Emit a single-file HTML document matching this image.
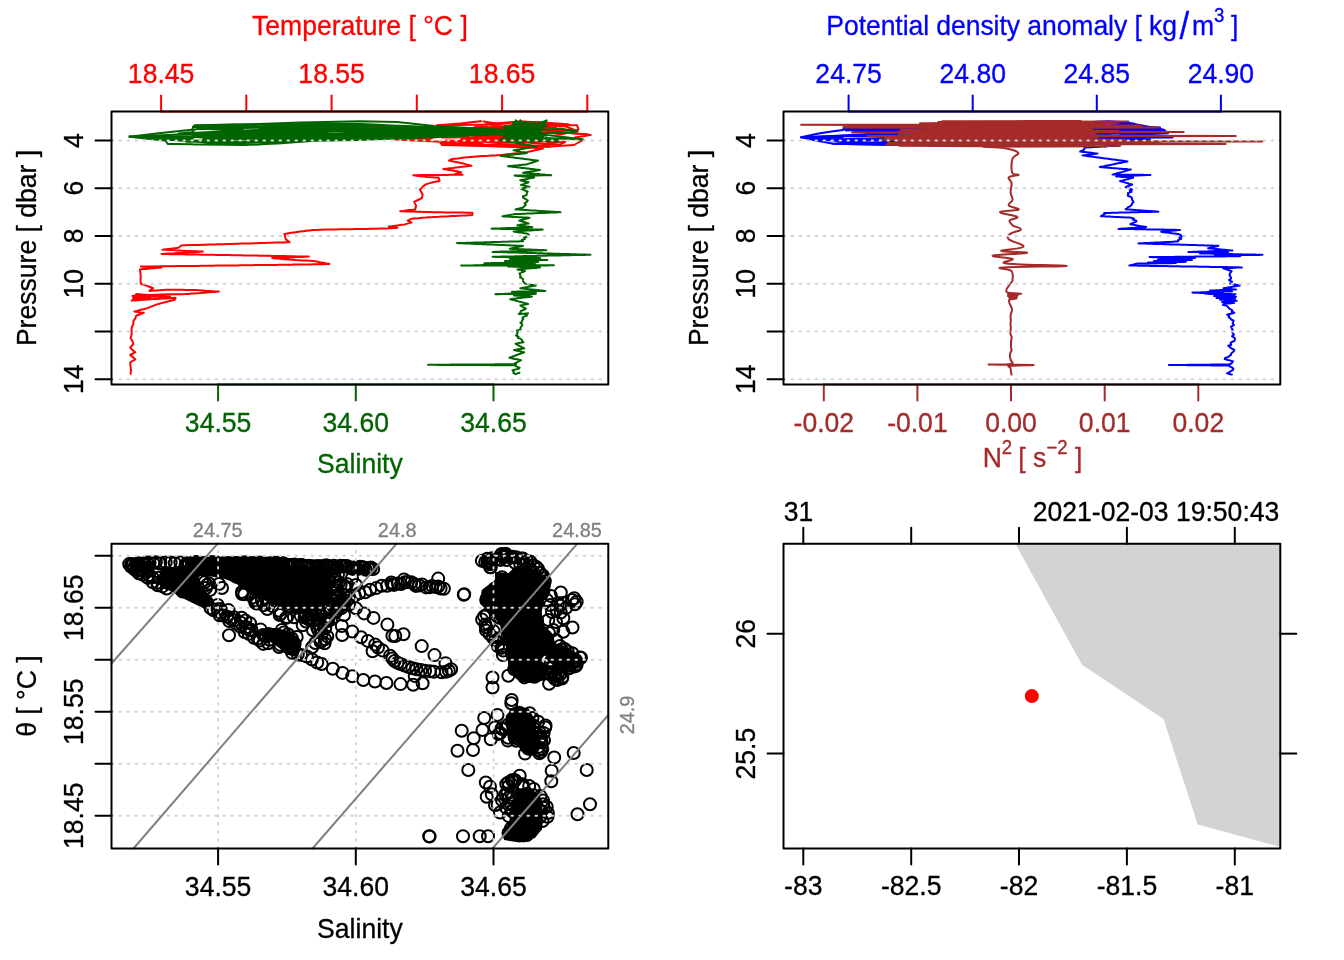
<!DOCTYPE html>
<html lang="en"><head><meta charset="utf-8"><title>CTD profile summary</title>
<style>
html,body{margin:0;padding:0;background:#fff}
svg{display:block}
text{font-family:"Liberation Sans", sans-serif;stroke-width:.3px;stroke-linejoin:round}
.g{stroke:#d3d3d3;stroke-width:2;stroke-dasharray:1.5 6.5;stroke-linecap:round;fill:none}
.c circle{fill:none;stroke:#000;stroke-width:2}
</style></head><body>
<svg width="1344" height="960" viewBox="0 0 1344 960">
<rect width="1344" height="960" fill="#fff"/>
<g id="p1">
<polyline points="483.5,121.6 500,124 505,123.4 520,121.6 527.1,121.9 545,122.5 550,122.9 550.3,122.9 568.1,124.3 568.8,124.4 534,125.1 522.2,123.4 520,124.2 502.8,126.2 491.3,126.2 500,127.4 508.8,126.2 520,125.7 524.4,125.8 545,127 546.7,126.7 550,127.1 555.9,127.2 541.7,127.4 532.1,127.6 520,126.3 503.5,128.2 500,128.4 481,126.3 475,127.1 469.1,129.4 481,128 495.7,129.2 500,130.5 511.1,129.7 520,128.3 529.2,128.3 545,129 550,130.2 556.7,130.2 570.2,129.9 532.5,130.4 520,129.1 511.8,129.7 500,130.9 489.1,129.4 481,129.2 471.3,128.9 467,129.9 445.4,130.6 462.2,132.5 467,131.1 480.4,130.7 481,131.4 500,132.6 501,132.5 520,130.9 527.7,131.1 545,132.2 550,132 551.6,132.5 567.2,132.6 550.3,133 550,133 545,133.6 539.6,133.6 520,132.1 516.6,132.4 465.5,134.2 467,133.6 481,133.3 493.5,135.6 500,135.1 520,134.6 520.5,134 538.3,135.2 537.4,136.2 526.1,136.5 520,136.2 500,136.5 499.4,136.1 481,135.3 476.6,135.1 467,135 458.2,135.1 442,136.2 441.9,135.9 440,134 437,134.4 430,139.2 417,138.4 438.8,135.1 440,135.9 442,137.5 454.7,137.5 467,136.7 470.3,137.6 481,136.2 497.7,138 500,138.4 520,137.8 522.4,137.6 535.9,137.8 544.8,139.4 542.3,138.6 520,139 515.4,139.1 500,139.3 488.1,138.9 481,138.4 467,138.9 463.6,138.8 461,139.4 467,140.3 481,139.3 481.5,140.1 500,141 506.6,140.5 520,140.8 529.7,140.6 545,141 550,141.5 550.9,140.6 560.6,140 538.5,141.2 536.2,141.6 520,141.1 515,141.9 500,142.3 490.9,141.6 481,140.6 467,140.2 463.5,140.9 445.9,140.5 459.9,141.8 467,141.5 481,141.6 486.5,142.1 500,143 511.2,142.7 520,142.3 539.2,143.2 545,143.5 550,142.9 558.2,142.1 565.2,141.8 559.8,144.6 550,144.6 545,145.3 542.8,145.6 525.6,145.3 520,145 509.9,145 500,144.8 484.1,144.5 481,143.6 467,143.4 464.6,143.5 442,144 441.7,142.4 440.4,142.6 442,145 465.3,145.6 467,145.6 481,146 483,146.1 500,146.5 502,146.5 520,146.6 522,146.6 545,146.8 546.6,146.8 549.8,146.8" fill="none" stroke="#ff0000" stroke-width="2" stroke-linejoin="round" stroke-linecap="round" />
<polyline points="467.9,122.6 481,121.3 460,123.6 437,125.2 500,124.5" fill="none" stroke="#ff0000" stroke-width="2" stroke-linejoin="round" stroke-linecap="round" />
<polyline points="486,124.2 520,121.5 545,122.5 560,125 577,125.2 578.5,129.5 570,133 590.7,135 575,137.5 583,140 574,145 550,146.4 500,146 470,144.6 442,144.8 455,142.5 395.3,139.5 440,137" fill="none" stroke="#ff0000" stroke-width="2" stroke-linejoin="round" stroke-linecap="round" />
<polyline points="546,125 566,126.5 577,131 560,134.5 546,131 588,134.6" fill="none" stroke="#ff0000" stroke-width="2" stroke-linejoin="round" stroke-linecap="round" />
<polyline points="442,144.6 500,146.3 530,147.6 542.7,148.4" fill="none" stroke="#ff0000" stroke-width="2" stroke-linejoin="round" stroke-linecap="round" />
<polyline points="542.7,148.4 539.5,149.2 536.3,149.9 533.2,150.7 530,151.4 526.8,152.2 523.5,152.5 520.2,152.9 516.9,153.2 513.6,153.6 510.4,153.9 507.1,154.3 503.8,154.7 500.5,155 497.5,155.2 494.5,155.4 491.5,155.6 488.5,155.8 485.5,155.9 482.5,156.1 479.5,156.3 476.5,156.5 473.5,156.7 470.5,156.9 467.4,157.3 464.3,157.6 461.1,158 458,158.4 454.9,158.7 451.8,159.1 448.9,160.6 452.4,161.3 455.9,162 459.5,162.7 463,163.4 467.2,164.6 471.4,165.7 468.4,166.1 465.4,166.4 462.3,166.8 459.3,167.2 456.1,167.6 452.9,168 449.7,168.3 446.5,168.7 443.3,169.1 446.4,169.6 449.4,170 452.4,170.4 455.5,170.9 461.1,172.3 455.5,173.8 459.1,174.2 462.6,174.7 459.5,174.7 456.4,174.8 453.4,174.8 450.3,174.8 447.2,174.9 444.1,174.9 441,174.9 438,175 434.9,175 431.8,175 428.7,175.1 425.6,175.1 422.5,175.1 419.5,175.2 416.4,175.2 413.3,175.2 416.8,175.7 420.4,176.2 423.9,176.6 427.4,177.1 431.1,177.2 434.9,177.4 438.6,177.5 439.6,180.9 436.3,181.6 433,182.2 429.7,183.1 426.4,184.1 423.6,185.9 419.9,189.7 422.7,194.4 421.8,198.1 418,200 414.2,201.9 416.1,205.6 415.2,209.4 412.2,209.8 409.2,210.1 406.2,210.5 403.2,210.9 400.2,211.2 403.5,211.3 406.8,211.4 410,211.5 413.3,211.6 416.6,211.7 419.9,211.8 423.2,211.9 426.4,212 429.7,212.1 433,212.2 436,212.2 439.1,212.3 442.1,212.3 445.1,212.4 448.2,212.4 451.2,212.5 454.2,212.5 457.2,212.5 460.3,212.6 463.3,212.6 466.3,212.7 469.4,212.7 472.4,212.8 472.4,215 469,215.2 465.5,215.4 462.1,215.6 458.6,215.7 455.2,215.9 451.8,216.1 448.5,216.3 445.3,216.4 442.1,216.6 438.9,216.8 435.7,216.9 432.5,217.1 429.2,217.2 425.7,217.6 422.1,217.8 418.5,218.2 415,218.4 411.4,218.8 407.7,220.6 411.4,222.5 408.1,223.4 404.9,224.4 401.7,224.8 398.5,225.3 395.3,225.7 392.1,226.2 388.9,226.6 393.1,227.2 397.4,227.8 393.6,228 389.9,228.2 386.1,228.5 383,228.6 379.9,228.6 376.7,228.7 373.6,228.8 370.5,228.8 367.4,228.9 364.2,229 361.1,229 358,229.1 354.9,229.1 351.8,229.2 348.7,229.2 345.6,229.2 342.4,229.3 339.3,229.3 336.2,229.4 333.1,229.4 329.7,229.5 326.2,229.6 322.8,229.7 319.4,229.8 315.9,229.9 312.5,230 309.4,230.4 306.4,230.8 303.3,231.2 300.2,231.6 297.1,232 294.1,232.4 291,232.8 287.7,233.4 284.4,234.1 285.9,239.4 289.6,242.2 286.6,242.3 283.6,242.4 280.6,242.5 277.6,242.6 274.6,242.6 271.6,242.7 268.5,242.8 265.5,242.9 262.5,243 259.5,243.1 256.5,243.2 253.5,243.3 250.5,243.4 247.5,243.4 244.5,243.5 241.5,243.6 238.5,243.7 235.5,243.8 232.4,243.9 229.4,244 226.4,244.1 223.4,244.2 220.4,244.2 217.4,244.3 214.4,244.4 211.4,244.5 208.4,244.6 205.4,244.7 202.4,244.8 199.4,244.9 196.3,245 193.3,245 190.3,245.1 187.3,245.2 184.3,245.3 181.3,245.4 178.4,247.8 175.2,248.2 172,248.6 168.9,248.9 165.7,249.3 162.5,249.7 165.6,249.8 168.7,250 171.8,250.1 174.9,250.3 178,250.4 181.1,250.6 184.2,250.7 187.3,250.9 190.4,251 193.5,251.2 196.6,251.3 199.7,251.5 202.8,251.6 199.6,251.8 196.5,252 193.3,252.2 190.1,252.3 187,252.5 183.8,252.7 180.6,252.9 177.4,253.1 174.3,253.3 171.1,253.4 167.9,253.6 164.8,253.8 161.6,254 164.7,254.1 167.7,254.1 170.8,254.2 173.9,254.2 176.9,254.2 180,254.3 183.1,254.3 186.1,254.4 189.2,254.5 192.3,254.5 195.3,254.6 198.4,254.6 201.4,254.7 204.5,254.7 207.6,254.8 210.6,254.8 213.7,254.8 216.8,254.9 219.8,255 222.9,255 226,255.1 229,255.1 232.1,255.2 235.2,255.2 238.2,255.2 241.3,255.3 244.4,255.4 247.4,255.4 250.5,255.5 253.6,255.5 256.6,255.6 259.7,255.7 262.8,255.7 265.8,255.8 268.9,255.8 272,255.9 275.1,256 278.1,256 281.2,256.1 284.3,256.1 287.3,256.2 290.4,256.2 293.5,256.3 296.5,256.4 299.6,256.4 302.7,256.5 305.7,256.5 308.8,256.6 305.8,256.7 302.7,256.9 299.6,257 296.6,257.1 293.6,257.2 290.5,257.4 287.4,257.5 284.4,257.6 281.4,257.7 278.3,257.9 275.2,258 272.2,258.1 275.5,258.4 278.9,258.6 282.2,258.9 285.6,259.2 288.9,259.5 292.3,259.7 295.6,260 299.2,260.2 302.7,260.4 306.3,260.5 309.8,260.7 313.4,260.9 316.6,261.5 319.8,262.2 323,262.8 326.2,263.5 329.4,264.1 326.2,264.1 323,264.2 319.9,264.2 316.7,264.3 313.5,264.3 310.3,264.4 307.2,264.4 304,264.5 300.8,264.5 297.6,264.6 294.5,264.6 291.3,264.7 288.1,264.7 285.1,264.7 282.1,264.8 279.1,264.8 276.1,264.9 273.1,264.9 270.1,264.9 267.1,265 264.1,265 261.1,265 258.1,265.1 255.1,265.1 252.1,265.2 249,265.2 246,265.2 243,265.3 240,265.3 237,265.4 234,265.4 231,265.4 228,265.5 225,265.5 222,265.6 219,265.6 216,265.6 213,265.7 210,265.7 207,265.7 204,265.8 201,265.8 198,265.9 195,265.9 192,265.9 189,266 186,266 183,266.1 180,266.1 176.9,266.1 173.9,266.2 170.9,266.2 167.9,266.3 164.9,266.3 161.9,266.3 158.9,266.4 155.9,266.4 152.9,266.4 149.9,266.5 146.9,266.5 143.9,266.6 140.9,266.6 144.3,266.8 147.8,266.9 151.2,267.1 154.7,267.2 158.2,267.4 161.6,267.5 158.5,267.8 155.4,268 152.3,268.3 149.3,268.6 146.2,268.9 143.1,269.1 140,269.4 140.4,273 140.8,276.6 140.5,280.2 140.9,283.8 143.9,284.8 147,285.9 150.1,287 153.1,288.1 149.4,290.9 152.8,290.7 156.1,290.4 159.5,290.2 162.9,290 166.2,289.8 169.5,289.8 172.8,289.8 176.1,289.8 179.4,289.8 182.7,289.8 185.9,289.9 189.2,289.9 192.5,289.9 195.8,290.1 199.1,290.3 202.3,290.5 205.6,290.8 208.9,291 212.2,291.2 215.5,291.4 218.8,291.6 215.7,291.8 212.6,292.1 209.5,292.3 206.5,292.5 203.4,292.7 200.3,293 197.3,293.2 194.2,293.4 191.1,293.6 188.1,293.9 185,294.1 181.6,294.2 178.1,294.2 174.7,294.2 171.3,294.3 167.8,294.3 164.4,294.4 161.2,294.5 158,294.7 154.8,294.8 151.6,295 148.4,295.1 145.3,295.3 142.1,295.4 138.9,295.6 135.7,295.8 132.5,295.9 135.7,295.8 138.9,295.8 142.1,295.7 145.2,295.6 148.4,295.6 151.6,295.5 154.8,295.5 158,295.4 155,295.6 152,295.8 149,296 146,296.2 143,296.4 140,296.6 137,296.8 134,297 137,297 140,296.9 143,296.9 146,296.9 149,296.8 152,296.8 155,296.8 158,296.7 161,296.7 164,296.7 167,296.6 170,296.6 166.9,296.4 163.9,296.1 160.8,295.9 157.7,295.7 154.7,295.5 151.6,295.2 148.5,295 145.5,294.8 142.4,294.6 139.3,294.3 136.2,294.1 133,298.5 136.4,298.4 139.8,298.4 143.2,298.3 146.6,298.3 150,298.2 146.9,298.6 143.9,299 140.8,299.4 137.7,299.8 134.7,300.2 131.6,300.6 134.8,300.4 138,300.2 141.2,300 144.5,299.7 147.7,299.5 150.9,299.3 154.1,299.1 157.2,298.9 160.2,298.7 163.3,298.5 166.4,298.4 169.5,298.2 172.5,298 175.6,297.8 174.7,299.7 171.7,300.5 168.8,301.3 165.8,302 162.8,302.8 159.9,303.6 156.9,304.4 153.8,305.6 150.6,306.9 147.5,308.1 144.2,309 140.9,309.8 137.7,310.6 134.4,311.5 137.5,311.9 140.6,312.4 143.8,312.8 140,314.2 136.2,315.6 135.2,318.4 133.4,321.2 133.3,324.4 131.7,327.5 131.6,330.6 131.6,334.4 130.6,338.1 132.3,340.9 133.4,343.8 130.2,347.5 132.3,349.9 135.3,352.2 130.2,355 132.7,357.1 135.3,359.3 130.2,362.5 130.5,366.2 131,370 130.6,373.8" fill="none" stroke="#ff0000" stroke-width="2" stroke-linejoin="round" stroke-linecap="round" />
<polyline points="129.5,136.7 156.5,133.6 165.8,132.5 167.7,132.3 182.4,130.7 191.8,129.7 194.6,125.4 210.3,125.1 231.8,124.6 243.9,124.4 255.8,124.2 258.8,124.1 273.9,124 277.4,123.9 298.8,123.7 314.6,123.6 325,123.4 330,123.4 348.9,123.8 360,124.1 373.8,124.6 392,125.4 419.3,126.5 447.6,127.6 450,127.7 453,127.8 475.9,128.7 498.4,129.7 499.5,129.7 500,129.7 507.1,129.8 500.5,130.6 500,130.5 499.5,129.7 483.8,130 458,129.1 453,128.3 450,128.2 438.2,128.1 420.5,127.8 394.6,126.6 378.3,126.2 360,125.7 352.2,125 336.5,124.9 330,124.4 314.6,124.4 314.6,125.5 289.1,125.3 277.4,126 266.4,125.9 258.8,126.2 245.2,126.3 243.9,126.1 228.7,125.9 205.1,128.6 227.2,127.4 243.9,127.4 250.5,126.9 258.8,127 266.3,127.4 277.4,127.3 294.5,126.5 314.6,125.9 316.7,125.7 330,126.1 337.4,126.6 360,126 363.4,126.9 386.2,126.6 408.1,127.4 432.6,128.2 448.9,129.2 450,128.8 453,128.9 471.4,129.7 492.3,129.7 499.5,130.6 500,129.9 506.1,130.4 503.1,130.2 500,130.8 499.5,130.5 494.6,130.7 468.5,129.8 453,129 450,130 443.3,129.7 424.8,129 398.1,127.8 374.6,127 360,127.4 348,126.9 330,126.3 325.6,127.1 314.6,126.8 301.8,127.6 278,127.3 277.4,127.5 260,128.3 258.8,127.8 243.9,128 242.4,128.9 220.1,129.4 199.2,128.7 194.6,129.6 191.8,132.3 178.8,133.4 287.4,128.5 310.3,128.2 314.6,127.6 327.7,127.6 330,127.6 345.5,127.7 360,128.1 363.6,127.5 390.1,128.9 418.5,129.6 446.2,129.4 450,129.8 453,130.2 462.8,130 479.1,130 499.5,130.4 500,130.8 505.4,130.2 515.8,131.3 509.4,131.3 500,131.8 499.5,131 488.6,131.1 462.5,130.9 453,130.9 450,130.5 436.8,130.7 411.6,130.7 384.1,129.5 365.3,129.7 360,129.6 339.3,129.1 330,128.6 314.6,129.4 310.9,129.3 288.9,129.7 277.4,130.9 265.6,130.7 258.8,131.3 244.8,131.7 243.9,131.7 221.1,132.1 293.5,131.2 312.3,131 314.6,130.5 330,130.5 333,129.6 349,130.4 360,130.6 367,129.8 387.4,131.1 404.1,130.3 422.8,130.9 450,130.8 450.1,131.1 453,131.3 472.8,130.7 494.9,131.9 499.5,131.3 500,131.4 512.2,131.4 506.8,131.8 503.1,132.1 500,132.2 499.5,131.6 486.8,131.9 458.9,131.4 453,131.6 450,131.2 430.5,131.4 414.4,131.5 389.1,131.1 361.9,130.5 360,131 341.3,130.4 330,130.5 316,131 314.6,131.2 298.5,131.2 282.5,132.4 277.4,132.9 263.9,133.4 258.8,132.9 248.3,133.5 243.9,133.9 229,133.5 204.1,133.3 194.6,134.2 191.8,136.1 185,136.4 129.5,136.2 156.7,136.3 165.8,136.5 167.7,138.2 182.4,136.8 191.8,136.9 194.6,134.2 206.1,134.2 226.2,134.8 243.9,134.6 245.2,134.6 258.8,133.9 269.7,133.7 277.4,133.2 292.5,132.7 314.6,132.3 315.7,132.4 330,131.3 339.5,131.3 360,132.2 364.8,132 382.7,132.2 401.4,131.6 429.7,131.9 450,131.7 453,132.4 457.2,131.8 484.2,132.1 493.4,132.4 517.6,131.3 510.6,131.7 500,132 499.5,131.9 494.1,132 470,132.2 453,132.2 451.8,133 450,133.1 435.4,132.5 409.7,132.4 390.4,132.5 365.9,133.2 360,132.7 344.1,133.3 330,133.4 321.3,133.5 314.6,133.1 304.8,133.8 288.4,133.8 277.4,134.6 261.4,135.5 258.8,135.1 244.7,135.4 243.9,135.6 224.4,136.1 203.4,136.1 129.5,136.2 152,136.8 165.8,137.9 167.7,140 178.5,138.7 191.8,138.9 194.6,136.8 201.3,137.5 219,137.4 243.9,136.9 244.5,136.9 258.8,137 271.5,136.3 277.4,136.4 290.6,135.3 306.3,134.5 314.6,134.8 328.5,134.2 330,134 351.1,134 360,134.2 374,134 402.1,134 426.1,133.2 450,133.5 452.1,133.3 453,133.5 468.4,133.2 491,132.9 499.5,132.8 500,132.9 513.9,132.2 502.6,133 500,133.1 499.5,132.3 483.8,132.9 466.8,133.7 453,133.7 450,133.4 447.4,134 431.2,133.5 403,134 383.7,134.1 362.7,134.4 360,134.9 344.6,135.2 330,134.7 327,134.7 314.6,134.9 306.7,135.2 278.2,136.7 277.4,137.7 258.8,138 253,138 243.9,137.9 235.7,138 214.7,138.7 203.3,139.5 221.6,139.5 237.7,139 243.9,139.1 258.8,138.7 265.6,138.4 277.4,138.7 291.6,137.5 312.1,136.4 314.6,136.7 330,135.6 334.4,135.9 356.6,135.2 360,135.9 375.7,134.8 404.1,135.3 428.2,134.9 446.7,134.5 450,133.6 453,133.8 462.3,134.1 483.9,132.8 499.5,132.8 500,132.8 504.2,133.2 504.5,132.8 502.5,133.4 500,132.8 499.5,132.9 484.8,133.9 460,134.4 453,134.5 450,134.6 438.4,135.1 419,135.4 402.6,135.7 383.1,136.5 363.6,136.4 360,137.2 337.2,137.7 330,136.6 319.7,137.4 314.6,137.6 297.4,138.3 277.4,140.1 274.8,139.8 258.8,140 256.7,140.8 243.9,141.5 230.4,141.6 213.8,140.9 194.6,140.6 191.8,141.1 186.3,141.8 231.2,141.3 243.9,141.8 250.9,141.1 258.8,141.8 277.2,140.5 277.4,140.6 293.9,139.7 311.1,138.7 314.6,138.5 327.8,137.8 330,137.7 352.1,137.5 360,136.9 376.9,136.9 394.6,136.8 415.3,136.6 441.8,135.7 450,135.3 453,135.2 465,134 481.6,133.8 499.5,133.2 500,133.5 500,132.9 511.7,132.7 508.3,132.8 500,133.7 499.5,134 499.2,134.2 472.8,135.3 453,135.3 450,135.8 447.9,135.9 425.7,136.5 397.3,137.8 372.5,137.7 360,139.1 355.2,138.1 333.2,138.9 330,138.8 314.6,139.8 313.2,139.2 290.5,141.2 277.4,142 263.2,142.2 258.8,142.1 243.9,142.9 237.7,143.4 220.2,143.5 129.5,136.7 156.7,139.8 165.8,140.8 167.7,144 175.3,144.1 191.8,144.3 194.6,144.4 198.3,144.4 224.7,144.8 242.5,145.1 243.9,145.1 258.8,144.4 265.1,144.1 277.4,143.6 281.5,143.3 297.4,142.1 314.6,140.8 315.1,140.8 330,140.5 343.6,140.2 360,139.9 371.4,139.5 395.5,138.6 414.9,137.8 439.2,136.9 450,136.5 453,136.3 464.3,135.8 484.8,134.8 498.7,134.1" fill="none" stroke="#006400" stroke-width="2" stroke-linejoin="round" stroke-linecap="round" />
<polyline points="129.5,136.7 200,133.4 300,131 440,130.5" fill="none" stroke="#006400" stroke-width="2" stroke-linejoin="round" stroke-linecap="round" />
<polyline points="499.5,129.7 434.4,126 397.2,121.9 360,121.3 300,122.4 258.8,124.1 194.6,125.4 193,127 300,126.6" fill="none" stroke="#006400" stroke-width="2" stroke-linejoin="round" stroke-linecap="round" />
<polyline points="524.3,130.9 527.2,137.7 529.9,136.1 518.1,130.4 515.9,131.3 515.5,129.8 522,130.6 521,129.1 536.8,129.9 513.6,132.9 512.8,125.9 524.5,122.6 500.7,133.4 534,122.6 514.7,135 503.8,127 511.7,130.7 504,136.7 522.3,133.5 520.4,120.3 522.2,124.4 523.8,127.1 520.5,130.6 531.4,136 513.6,131.7 538.3,134.5 516.4,131.1 520.2,137 524,133.9 545.8,124.2 513.6,122.3 507.8,136.5 526.6,140.8 504,127 538.1,137.5 532.5,136.6 524,131.7 524,136.4 522.1,133.6 538.2,125.6 516.2,134.9 521.1,130.9 544.7,134.1 519.5,137.8 546.7,125.7 517,132.4 517.3,143.3 529,129.6 528.6,127.4 517.6,132.4 546.7,120.3 527.9,139.2 531.1,142.4 528.2,132.6 522.4,127.1 540.1,125.3 522.5,128.9 515.8,120.3 519.9,132.6 525.1,136.4 522.1,128.3 526.8,135.5 514.7,123.4 513.4,137.6 533.7,126.9 524.8,136.4 537,128.2 521.3,139.5 546.7,140.2 512.3,134.3 520.7,131.5 517.1,129.2 523.6,141.7 530.7,134.1 524,127.7 521.4,138.6 532,142.6 526.3,131.7 507.5,134 506.5,140.2 517.4,131.8 510.2,129.1 514.4,138 526.2,125.3 504.4,131.4 518.8,125.7 529.6,130.8 524.8,128.6 518,129.3 507.7,135.3 527.7,122.3 524.7,138.1 526.1,138.9 521,131.8 510.7,126.8 505.5,126.9 526.1,134.7 535.3,132.5 513.8,134.2 522.2,141.6 543.3,137.1 512.3,128.9 525.6,127.9 528.9,135.6 532.1,133.1 514.9,127.2 522.5,139.1 539.4,137.2 527.3,135.5 531.9,138.9 532.3,123.4 533.2,133.9 519.1,134.7 526.6,131.5 506.8,132.4 529.3,131.5 507.8,134.3 530.9,132.8 528,129.9 517.1,134.7 520.2,132.8 546.7,135.7 525.1,122.9 524.7,136 516.7,130.5 501.2,134.9 517.7,135.6 537.3,130.9 533.5,133.2 521.7,130.3 515.2,138.9 532.5,126.3 532.1,127.8 508.6,138.4 510.9,138.3 525.7,136.8 528.8,138.2 527.2,135 526.2,137.8 519.8,137.4 538.8,131.5 528.1,129 520.8,133.2 520.3,126.9 523.4,132.9 526.9,135.7 506,139.6 522,127.6 520,134.2 532.4,129.8 525.3,123 525.4,131.2 519.4,136.7 541.6,137.5 515.9,140.2 520.4,131.6 517.9,134.3 529.2,132.6 521.6,131 519.7,137.1 518.5,131 521.6,127.7 521.4,123.7 527.8,134.8 520.7,140.3 515.5,134.8 528.5,128.9 521.3,136.7 524.3,133.3 537.6,133" fill="none" stroke="#006400" stroke-width="2" stroke-linejoin="round" stroke-linecap="round" />
<polyline points="523,131 560,128.5 577.6,131.5 540,134 583.2,139.5 545,138 560,141.5 520,140" fill="none" stroke="#006400" stroke-width="2" stroke-linejoin="round" stroke-linecap="round" />
<polyline points="505,137 500,140 520,143.5 536.1,146.6" fill="none" stroke="#006400" stroke-width="2" stroke-linejoin="round" stroke-linecap="round" />
<polyline points="536.1,146.6 534.7,146.8 533.3,147.1 531.9,147.3 530.5,147.5 529.1,147.8 527.7,148 526.3,148.2 524.9,148.4 523.4,148.7 522,148.9 520.6,149.1 519.2,149.4 517.8,149.6 516.4,149.8 515,150.1 513.6,150.3 515.1,150.6 516.5,150.9 518,151.2 519.4,151.5 520.9,151.9 522.4,152.2 523.8,152.5 525.3,152.8 526.8,153.1 525.3,153.3 523.8,153.4 522.4,153.6 520.9,153.7 519.5,153.9 518,154 516.5,154.2 515.1,154.3 513.6,154.5 512.2,154.7 510.7,154.8 509.2,155 507.8,155.1 506.3,155.3 504.9,155.4 503.4,155.6 502,155.7 500.5,155.9 501.9,156.1 503.4,156.3 504.8,156.4 506.3,156.6 507.7,156.8 509.2,157 510.6,157.2 512,157.3 513.5,157.5 514.9,157.7 516.4,157.9 517.8,158.1 519.2,158.2 520.7,158.4 522.1,158.6 523.6,158.8 525,159 526.5,159.2 527.9,159.3 529.3,159.5 530.8,159.7 532.2,159.9 533.7,160.1 535.1,160.2 536.6,160.4 538,160.6 536.6,161.1 535.2,161.6 533.8,162 532.4,162.5 531,163 529.6,163.4 528.2,163.9 526.8,164.4 525.3,164.5 523.9,164.7 522.4,164.8 521,165 519.5,165.1 518.1,165.3 516.7,165.4 515.2,165.5 513.8,165.7 512.3,165.8 510.9,166 509.4,166.1 508,166.2 509.4,166.4 510.9,166.6 512.4,166.8 513.8,166.9 515.2,167.1 516.7,167.3 518.1,167.4 519.6,167.6 521,167.8 522.5,168 524,168.1 525.4,168.3 526.9,168.5 528.3,168.6 529.8,168.8 531.2,169 532.6,169.1 534.1,169.3 535.5,169.5 537,169.7 538.4,169.8 539.9,170 538.5,170.2 537.1,170.5 535.7,170.7 534.3,170.9 532.9,171.2 531.5,171.4 530,171.6 528.6,171.9 527.2,172.1 525.8,172.3 524.4,172.6 523,172.8 524.4,172.9 525.8,173 527.2,173.2 528.6,173.3 530,173.4 531.4,173.5 532.8,173.7 534.2,173.8 535.6,173.9 537,174 538.5,174.1 539.9,174.3 541.3,174.4 542.7,174.5 544.1,174.6 545.5,174.8 546.9,174.9 548.3,175 549.7,175.1 551.1,175.2 549.7,175.3 548.3,175.3 546.9,175.3 545.5,175.3 544.1,175.3 542.7,175.3 541.3,175.3 539.9,175.4 538.5,175.4 537.1,175.4 535.7,175.4 534.3,175.4 532.9,175.4 531.4,175.4 530,175.5 528.6,175.5 527.2,175.5 525.8,175.5 524.4,175.5 523,175.5 521.6,175.5 520.2,175.5 518.8,175.6 517.4,175.6 516,175.6 514.6,175.6 516,175.7 517.4,175.9 518.8,176 520.2,176.1 521.6,176.3 523,176.4 524.4,176.6 525.8,176.7 527.2,176.8 528.6,177 530,177.1 531.4,177.2 532.8,177.4 534.2,177.5 532.8,177.8 531.4,178.1 530,178.3 528.6,178.6 527.2,178.9 525.8,179.2 524.4,179.5 523,179.7 521.6,180 520.2,180.3 521.6,180.6 523,180.9 524.4,181.2 525.8,181.6 527.2,181.9 528.6,182.2 527.1,182.8 525.6,183.3 524.1,183.9 522.6,184.4 521.1,185 522.5,185.3 523.9,185.6 525.4,185.9 526.8,186.3 528.2,186.6 529.6,186.9 528.2,187.2 526.8,187.5 525.4,187.8 523.9,188.1 522.5,188.4 521.1,188.8 522.4,189.3 523.7,189.9 525.1,190.5 526.4,191 527.7,191.6 526.8,192.8 526.8,193.9 526.5,195.1 523,196.2 523,197.7 525.7,199.1 527.8,200.5 526.8,201.9 524.5,203.3 525.8,204.7 524.7,206.1 523,207.5 521.5,207.9 520,208.3 518.5,208.6 517,209 515.5,209.4 516.9,209.5 518.3,209.6 519.7,209.7 521.1,209.8 522.5,209.8 523.9,209.9 525.3,210 526.8,210.1 528.2,210.2 529.6,210.3 531,210.4 532.4,210.4 533.8,210.5 535.2,210.6 536.6,210.7 538,210.8 539.4,210.9 540.8,211 542.2,211.1 543.6,211.2 545,211.2 546.4,211.3 547.8,211.4 549.2,211.5 550.7,211.6 552.1,211.7 553.5,211.8 554.9,211.8 556.3,211.9 557.7,212 559.1,212.1 560.5,212.2 559.1,212.3 557.7,212.3 556.3,212.4 554.9,212.4 553.5,212.5 552.1,212.6 550.7,212.6 549.2,212.7 547.8,212.7 546.4,212.8 545,212.9 543.6,212.9 542.2,213 540.8,213 539.4,213.1 538,213.1 536.6,213.2 535.2,213.3 533.8,213.3 532.4,213.4 531,213.4 529.6,213.5 528.2,213.6 526.8,213.6 525.3,213.7 523.9,213.7 522.5,213.8 521.1,213.9 519.7,213.9 518.3,214 516.9,214 515.5,214.1 514,214.3 512.6,214.6 511.1,214.8 509.7,215.1 508.2,215.3 506.8,215.6 505.3,215.8 503.9,216.1 502.4,216.3 503.8,216.4 505.3,216.5 506.7,216.5 508.1,216.6 509.6,216.7 511,216.8 512.4,216.9 513.9,216.9 515.3,217 516.7,217.1 518.1,217.2 519.6,217.2 521,217.3 522.4,217.4 523.9,217.5 525.3,217.6 526.7,217.6 528.2,217.7 529.6,217.8 528.1,218.2 526.6,218.6 525.2,219 523.7,219.4 522.2,219.8 520.7,220.2 519.2,220.6 520.8,221.1 522.4,221.5 523.9,222 525.5,222.5 527,222.9 528.6,223.4 527.2,223.6 525.8,223.9 524.4,224.1 523,224.4 521.6,224.6 520.2,224.8 518.8,225.1 517.4,225.3 518.9,225.5 520.4,225.7 521.9,225.9 523.4,226.1 524.9,226.2 526.4,226.4 527.9,226.6 529.4,226.8 530.9,227 532.4,227.2 531,227.3 529.6,227.3 528.2,227.4 526.8,227.4 525.3,227.5 523.9,227.5 522.5,227.6 521.1,227.6 519.7,227.7 518.3,227.7 516.9,227.8 515.5,227.8 514.1,227.9 512.7,227.9 511.2,228 509.8,228 508.4,228.1 507,228.1 505.6,228.2 504.2,228.2 502.8,228.3 501.4,228.3 500,228.4 498.6,228.4 497.1,228.5 495.7,228.5 494.3,228.6 492.9,228.6 491.5,228.7 492.9,228.7 494.3,228.8 495.8,228.8 497.2,228.8 498.6,228.8 500,228.8 501.5,228.9 502.9,228.9 504.3,228.9 505.7,228.9 507.1,229 508.6,229 510,229 511.4,229 512.8,229.1 514.3,229.1 515.7,229.1 517.1,229.1 518.5,229.2 519.9,229.2 521.4,229.2 522.8,229.2 524.2,229.3 525.6,229.3 527.1,229.3 528.5,229.3 529.9,229.4 531.3,229.4 532.7,229.4 534.2,229.4 535.6,229.5 537,229.5 538.4,229.5 539.9,229.5 541.3,229.6 542.7,229.6 541.2,229.7 539.8,229.8 538.3,229.9 536.9,230 535.4,230.1 534,230.2 532.5,230.3 531.1,230.4 529.6,230.5 528.2,230.6 526.7,230.6 525.2,230.7 523.8,230.8 522.3,230.9 520.9,231 519.4,231.1 518,231.2 516.5,231.3 515.1,231.4 513.6,231.5 515,231.7 516.4,231.9 517.8,232.2 519.2,232.4 520.7,232.6 522.1,232.8 523.5,233.1 524.9,233.3 526.3,233.5 527.7,233.8 529.1,235 527.9,236.2 524.1,237.5 525.2,238.8 521.8,240 523,241.2 521.6,241.3 520.2,241.3 518.8,241.4 517.4,241.4 516,241.4 514.6,241.5 513.2,241.5 511.8,241.6 510.4,241.6 509,241.6 507.6,241.7 506.1,241.7 504.7,241.8 503.3,241.8 501.9,241.8 500.5,241.9 499.1,241.9 497.7,242 496.3,242 494.9,242 493.5,242.1 492.1,242.1 490.7,242.2 489.3,242.2 487.9,242.2 486.5,242.3 485.1,242.3 483.7,242.4 482.3,242.4 480.9,242.4 479.5,242.5 478.1,242.5 476.7,242.5 475.3,242.6 473.9,242.6 472.4,242.7 471,242.7 469.6,242.7 468.2,242.8 466.8,242.8 465.4,242.9 464,242.9 462.6,242.9 461.2,243 459.8,243 458.4,243.1 457,243.1 458.4,243.2 459.8,243.2 461.2,243.3 462.6,243.3 464,243.4 465.4,243.5 466.8,243.5 468.2,243.6 469.6,243.6 471,243.7 472.4,243.8 473.9,243.8 475.3,243.9 476.7,243.9 478.1,244 479.5,244.1 480.9,244.1 482.3,244.2 483.7,244.2 485.1,244.3 486.5,244.4 487.9,244.4 489.3,244.5 490.7,244.5 492.1,244.6 493.5,244.6 494.9,244.7 496.3,244.8 497.7,244.8 499.1,244.9 500.5,244.9 501.9,245 503.3,245.1 504.7,245.1 506.1,245.2 507.6,245.2 509,245.3 510.4,245.4 511.8,245.4 513.2,245.5 514.6,245.5 516,245.6 517.4,245.7 518.8,245.7 520.2,245.8 521.6,245.8 523,245.9 521.5,246.2 520.1,246.5 518.6,246.8 517.2,247.2 515.7,247.5 514.3,247.8 512.8,248.1 511.4,248.4 509.9,248.8 511.3,248.8 512.7,248.9 514.1,248.9 515.5,249 516.9,249 518.3,249.1 519.7,249.2 521.1,249.2 522.5,249.3 523.9,249.3 525.3,249.4 526.7,249.4 528.1,249.5 529.6,249.6 531,249.6 532.4,249.7 533.8,249.7 535.2,249.8 536.6,249.8 538,249.9 539.4,250 540.8,250 542.2,250.1 543.6,250.1 545,250.2 546.4,250.2 545,250.3 543.6,250.3 542.2,250.4 540.7,250.4 539.3,250.5 537.9,250.5 536.5,250.6 535.1,250.6 533.7,250.6 532.2,250.7 530.8,250.7 529.4,250.8 528,250.8 526.6,250.9 525.2,250.9 523.7,250.9 522.3,251 520.9,251 519.5,251.1 518.1,251.1 516.7,251.2 515.3,251.2 513.8,251.2 512.4,251.3 511,251.3 509.6,251.4 508.2,251.4 506.8,251.5 505.3,251.5 503.9,251.6 502.5,251.6 501.1,251.6 499.7,251.7 498.3,251.7 496.8,251.8 495.4,251.8 494,251.9 492.6,251.9 494,251.9 495.4,252 496.9,252 498.3,252.1 499.7,252.1 501.1,252.1 502.5,252.2 504,252.2 505.4,252.3 506.8,252.3 508.2,252.4 509.6,252.4 511,252.4 512.5,252.5 513.9,252.5 515.3,252.6 516.7,252.6 518.1,252.6 519.6,252.7 521,252.7 522.4,252.8 523.8,252.8 525.2,252.8 526.7,252.9 528.1,252.9 529.5,253 530.9,253 532.3,253.1 533.7,253.1 535.2,253.1 536.6,253.2 538,253.2 539.4,253.3 540.8,253.3 542.3,253.3 543.7,253.4 545.1,253.4 546.5,253.5 547.9,253.5 549.4,253.6 550.8,253.6 552.2,253.6 553.6,253.7 555,253.7 556.4,253.8 557.9,253.8 559.3,253.8 560.7,253.9 562.1,253.9 563.5,254 565,254 566.4,254 567.8,254.1 569.2,254.1 570.6,254.2 572.1,254.2 573.5,254.3 574.9,254.3 576.3,254.3 577.7,254.4 579.1,254.4 580.6,254.5 582,254.5 583.4,254.5 584.8,254.6 586.2,254.6 587.7,254.7 589.1,254.7 590.5,254.8 589.1,254.8 587.7,254.8 586.2,254.8 584.8,254.9 583.4,254.9 582,254.9 580.6,255 579.1,255 577.7,255 576.3,255 574.9,255.1 573.5,255.1 572.1,255.1 570.6,255.2 569.2,255.2 567.8,255.2 566.4,255.3 565,255.3 563.5,255.3 562.1,255.3 560.7,255.4 559.3,255.4 557.9,255.4 556.4,255.5 555,255.5 553.6,255.5 552.2,255.6 550.8,255.6 549.4,255.6 547.9,255.6 546.5,255.7 545.1,255.7 543.7,255.7 542.3,255.8 540.8,255.8 539.4,255.8 538,255.8 536.6,255.9 535.2,255.9 533.7,255.9 532.3,256 530.9,256 529.5,256 528.1,256.1 526.7,256.1 525.2,256.1 523.8,256.1 522.4,256.2 521,256.2 519.6,256.2 518.1,256.3 516.7,256.3 515.3,256.3 513.9,256.4 512.5,256.4 511,256.4 509.6,256.4 508.2,256.5 506.8,256.5 505.4,256.5 504,256.6 502.5,256.6 501.1,256.6 499.7,256.7 498.3,256.7 496.9,256.7 495.4,256.7 494,256.8 492.6,256.8 494,256.8 495.5,256.9 496.9,256.9 498.3,256.9 499.8,257 501.2,257 502.7,257.1 504.1,257.1 505.5,257.1 507,257.2 508.4,257.2 509.8,257.2 511.3,257.3 512.7,257.3 514.1,257.3 515.6,257.4 517,257.4 518.5,257.5 519.9,257.5 521.3,257.5 522.8,257.6 524.2,257.6 525.6,257.6 527.1,257.7 528.5,257.7 529.9,257.7 531.4,257.8 532.8,257.8 534.3,257.9 535.7,257.9 537.1,257.9 538.6,258 540,258 538.6,258 537.1,258.1 535.7,258.1 534.3,258.2 532.9,258.2 531.4,258.3 530,258.3 528.6,258.4 527.1,258.4 525.7,258.5 524.3,258.5 522.9,258.6 521.4,258.6 520,258.7 518.6,258.7 517.1,258.8 515.7,258.8 514.3,258.9 512.9,258.9 511.4,259 510,259 511.4,259 512.9,259.1 514.3,259.1 515.8,259.2 517.2,259.2 518.6,259.2 520.1,259.3 521.5,259.3 522.9,259.3 524.4,259.4 525.8,259.4 527.3,259.5 528.7,259.5 530.1,259.5 531.6,259.6 533,259.6 534.5,259.7 535.9,259.7 537.3,259.7 538.8,259.8 540.2,259.8 541.6,259.8 543.1,259.9 544.5,259.9 546,260 547.4,260 546,260 544.6,260.1 543.2,260.1 541.7,260.1 540.3,260.2 538.9,260.2 537.5,260.2 536.1,260.3 534.7,260.3 533.3,260.3 531.9,260.4 530.4,260.4 529,260.4 527.6,260.5 526.2,260.5 524.8,260.5 523.4,260.6 522,260.6 520.5,260.6 519.1,260.7 517.7,260.7 516.3,260.7 514.9,260.8 513.5,260.8 512.1,260.8 510.7,260.9 509.2,260.9 507.8,260.9 506.4,261 505,261 506.4,261 507.9,261.1 509.3,261.1 510.7,261.2 512.2,261.2 513.6,261.3 515,261.3 516.5,261.3 517.9,261.4 519.3,261.4 520.8,261.5 522.2,261.5 523.7,261.6 525.1,261.6 526.5,261.7 528,261.7 529.4,261.7 530.8,261.8 532.3,261.8 533.7,261.9 535.1,261.9 536.6,262 538,262 536.6,262 535.2,262.1 533.8,262.1 532.4,262.1 530.9,262.2 529.5,262.2 528.1,262.2 526.7,262.3 525.3,262.3 523.9,262.3 522.5,262.4 521.1,262.4 519.7,262.4 518.3,262.5 516.8,262.5 515.4,262.5 514,262.6 512.6,262.6 511.2,262.6 509.8,262.7 508.4,262.7 507,262.8 505.6,262.8 504.1,262.8 502.7,262.9 501.3,262.9 499.9,262.9 498.5,263 497.1,263 495.7,263 494.3,263.1 492.9,263.1 491.5,263.1 490,263.2 488.6,263.2 487.2,263.2 485.8,263.3 484.4,263.3 485.8,263.3 487.2,263.3 488.6,263.4 490,263.4 491.4,263.4 492.8,263.4 494.2,263.4 495.6,263.5 497,263.5 498.5,263.5 499.9,263.5 501.3,263.5 502.7,263.6 504.1,263.6 505.5,263.6 506.9,263.6 508.3,263.6 509.7,263.6 511.1,263.7 512.5,263.7 513.9,263.7 515.3,263.7 516.7,263.7 518.1,263.8 519.5,263.8 520.9,263.8 522.4,263.8 523.8,263.8 525.2,263.9 526.6,263.9 528,263.9 529.4,263.9 530.8,263.9 532.2,264 533.6,264 535,264 533.6,264 532.2,264.1 530.7,264.1 529.3,264.1 527.9,264.2 526.5,264.2 525.1,264.2 523.6,264.2 522.2,264.3 520.8,264.3 519.4,264.3 517.9,264.4 516.5,264.4 515.1,264.4 513.7,264.5 512.3,264.5 510.8,264.5 509.4,264.6 508,264.6 506.6,264.6 505.2,264.6 503.7,264.7 502.3,264.7 500.9,264.7 499.5,264.8 498.1,264.8 496.6,264.8 495.2,264.9 493.8,264.9 492.4,264.9 490.9,265 489.5,265 488.1,265 486.7,265 485.3,265.1 483.8,265.1 482.4,265.1 481,265.2 479.6,265.2 478.2,265.2 476.7,265.3 475.3,265.3 473.9,265.3 472.5,265.4 471,265.4 469.6,265.4 468.2,265.4 466.8,265.5 465.4,265.5 463.9,265.5 462.5,265.6 461.1,265.6 462.5,265.6 463.9,265.6 465.3,265.6 466.7,265.6 468.1,265.6 469.5,265.6 470.9,265.6 472.3,265.6 473.8,265.5 475.2,265.5 476.6,265.5 478,265.5 479.4,265.5 480.8,265.5 482.2,265.5 483.6,265.5 485,265.5 486.4,265.5 487.8,265.5 489.2,265.5 490.6,265.5 492,265.5 493.4,265.5 494.8,265.5 496.3,265.4 497.7,265.4 499.1,265.4 500.5,265.4 501.9,265.4 503.3,265.4 504.7,265.4 506.1,265.4 507.5,265.4 508.9,265.4 510.3,265.4 511.7,265.4 513.1,265.4 514.5,265.4 515.9,265.4 517.3,265.4 518.7,265.4 520.2,265.3 521.6,265.3 523,265.3 524.4,265.3 525.8,265.3 527.2,265.3 528.6,265.3 530,265.3 531.4,265.3 532.8,265.3 534.2,265.3 535.6,265.3 537,265.3 538.4,265.3 539.8,265.3 541.2,265.3 542.7,265.2 544.1,265.2 545.5,265.2 546.9,265.2 548.3,265.2 549.7,265.2 551.1,265.2 552.5,265.2 553.9,265.2 552.5,265.2 551,265.3 549.6,265.3 548.2,265.4 546.7,265.4 545.3,265.4 543.9,265.5 542.4,265.5 541,265.6 539.6,265.6 538.1,265.6 536.7,265.7 535.3,265.7 533.8,265.8 532.4,265.8 531,265.9 529.5,265.9 528.1,265.9 526.6,266 525.2,266 523.8,266.1 522.3,266.1 520.9,266.1 519.5,266.2 518,266.2 516.6,266.3 515.2,266.3 513.7,266.3 512.3,266.4 510.9,266.4 509.4,266.5 508,266.5 509.5,266.5 510.9,266.6 512.4,266.6 513.8,266.7 515.3,266.7 516.7,266.8 518.2,266.8 519.6,266.9 521.1,266.9 522.5,267 524,267 525.5,267 526.9,267.1 528.4,267.1 529.8,267.2 531.3,267.2 532.7,267.3 534.2,267.3 535.6,267.4 537.1,267.4 538.5,267.5 540,267.5 538.6,267.6 537.2,267.7 535.8,267.9 534.4,268 532.9,268.1 531.5,268.2 530.1,268.3 528.7,268.4 527.3,268.6 525.9,268.7 524.5,268.8 523,268.9 521.6,269 520.2,269.2 518.8,269.3 517.4,269.4 518.9,269.7 520.4,270.1 522,270.4 523.5,270.8 525,271.1 523.6,271.7 522.2,272.2 520.9,272.8 519.5,273.4 520,274.7 520.7,276.1 520,277.4 523,278.8 523.1,280.4 523.5,282 525,283.6 526.6,283.9 528.1,284.2 529.7,284.5 531.2,284.7 532.8,285 534.3,285.3 535.9,285.6 534.5,285.8 533.1,286.1 531.6,286.3 530.2,286.6 528.8,286.8 527.4,287.1 526,287.3 524.6,287.6 523.1,287.8 521.7,288.1 520.3,288.3 521.8,288.5 523.2,288.6 524.7,288.8 526.2,288.9 527.7,289.1 529.1,289.2 530.6,289.4 532.1,289.5 533.5,289.7 535,289.8 536.5,290 537.9,290.1 539.4,290.3 540.9,290.4 542.4,290.6 543.8,290.7 545.3,290.9 543.9,290.9 542.4,291 541,291 539.5,291.1 538.1,291.1 536.6,291.1 535.2,291.2 533.7,291.2 532.3,291.3 530.8,291.3 529.4,291.3 527.9,291.4 526.5,291.4 525,291.4 523.6,291.5 522.1,291.5 520.7,291.6 519.2,291.6 517.8,291.6 516.3,291.7 514.9,291.7 513.4,291.8 512,291.8 513.4,291.8 514.8,291.9 516.2,291.9 517.6,292 519.1,292 520.5,292.1 521.9,292.1 523.3,292.2 524.7,292.2 526.1,292.3 527.5,292.3 528.9,292.4 530.4,292.4 531.8,292.5 533.2,292.5 534.6,292.6 536,292.6 534.6,292.7 533.2,292.7 531.8,292.8 530.4,292.8 529,292.9 527.6,292.9 526.2,293 524.8,293 523.4,293.1 522,293.2 520.6,293.2 519.2,293.3 517.8,293.3 516.4,293.4 514.9,293.4 513.5,293.5 512.1,293.5 510.7,293.6 509.3,293.6 507.9,293.7 506.5,293.8 505.1,293.8 503.7,293.9 502.3,293.9 500.9,294 499.5,294 498.1,294.1 496.7,294.1 495.3,294.2 496.7,294.2 498.1,294.2 499.5,294.2 500.9,294.1 502.3,294.1 503.7,294.1 505.1,294.1 506.5,294.1 507.9,294.1 509.3,294 510.7,294 512.1,294 513.5,294 514.9,294 516.3,294 517.7,294 519.1,293.9 520.5,293.9 521.9,293.9 523.3,293.9 524.7,293.9 526.1,293.9 527.5,293.8 528.9,293.8 530.3,293.8 531.7,293.8 533.1,293.8 534.5,293.8 535.9,293.8 534.4,293.9 533,294 531.5,294.1 530.1,294.2 528.6,294.3 527.1,294.4 525.7,294.6 524.2,294.7 522.8,294.8 521.3,294.9 519.8,295 518.4,295.1 516.9,295.3 515.5,295.4 514,295.5 515.5,295.6 517,295.7 518.5,295.8 520,295.8 521.5,295.9 523,296 524.5,296.1 526,296.2 527.5,296.2 529,296.3 530.5,296.4 532,296.5 530.5,296.7 529.1,296.9 527.6,297 526.2,297.2 524.7,297.4 523.3,297.6 521.8,297.8 520.4,297.9 518.9,298.1 517.5,298.3 516,298.5 514.6,298.7 513.1,298.8 511.7,299 510.2,299.2 511.6,299.6 513,299.9 514.3,300.3 515.7,300.6 517.1,301 518.5,301.4 519.8,301.7 521.2,302.1 522.6,302.5 524,302.8 525.3,303.2 526.7,303.5 528.1,303.9 526.5,304.2 525,304.5 523.4,304.9 521.9,305.2 520.3,305.5 521.7,306.3 523,307.1 524.4,307.8 525.8,308.6 524.6,309.5 522.4,310.4 520.6,311.4 520.6,312.3 519.8,313.2 518.8,314.1 520.3,314 521.9,313.8 523.4,313.7 525,313.6 526.5,313.4 528.1,313.3 525.6,314.4 527,315.5 524,316.6 522.4,317.7 523.4,318.8 522.2,320.1 522.1,321.4 520.4,322.8 522,324.1 522.2,325.4 521,326.8 520.3,328.1 520.6,329.4 516.8,330.6 517.9,331.9 517.2,333.1 517.2,334.4 516,335.5 518.5,336.6 517.7,337.7 520.7,338.9 522,340 522.4,341.1 523.4,342.2 521.8,342.5 520.3,342.8 518.7,343.1 517.2,343.4 515.6,343.8 517,344.5 518.5,345.3 519.9,346.1 521.3,346.8 522.8,347.6 524.2,348.4 522.8,348.6 521.3,348.9 519.9,349.1 518.4,349.3 517,349.5 515.5,349.8 514.1,350 515.5,350.3 517,350.7 518.4,351 519.9,351.3 521.3,351.6 522.8,352 524.2,352.3 522.9,352.8 521.5,353.3 520.2,353.8 518.8,354.3 517.5,354.8 516.1,355.3 514.8,355.8 513.4,356.3 512.1,356.8 510.7,357.3 509.4,357.8 510.9,358.1 512.3,358.4 513.8,358.7 515.2,359 516.7,359.3 518.2,359.6 519.6,359.9 521.1,360.2 519,361.2 517.4,362.2 515,363.2 516,364.2 514.6,364.2 513.2,364.2 511.7,364.2 510.3,364.2 508.9,364.2 507.5,364.3 506.1,364.3 504.7,364.3 503.2,364.3 501.8,364.3 500.4,364.3 499,364.3 497.6,364.3 496.2,364.3 494.7,364.3 493.3,364.4 491.9,364.4 490.5,364.4 489.1,364.4 487.6,364.4 486.2,364.4 484.8,364.4 483.4,364.4 482,364.4 480.6,364.4 479.1,364.5 477.7,364.5 476.3,364.5 474.9,364.5 473.5,364.5 472.1,364.5 470.6,364.5 469.2,364.5 467.8,364.5 466.4,364.5 465,364.5 463.5,364.6 462.1,364.6 460.7,364.6 459.3,364.6 457.9,364.6 456.5,364.6 455,364.6 453.6,364.6 452.2,364.6 450.8,364.6 449.4,364.7 447.9,364.7 446.5,364.7 445.1,364.7 443.7,364.7 442.3,364.7 440.9,364.7 439.4,364.7 438,364.7 436.6,364.7 435.2,364.8 433.8,364.8 432.4,364.8 430.9,364.8 429.5,364.8 428.1,364.8 429.5,364.8 430.9,364.8 432.3,364.8 433.7,364.8 435.2,364.8 436.6,364.8 438,364.9 439.4,364.9 440.8,364.9 442.2,364.9 443.6,364.9 445,364.9 446.4,364.9 447.9,364.9 449.3,364.9 450.7,364.9 452.1,364.9 453.5,364.9 454.9,365 456.3,365 457.7,365 459.1,365 460.6,365 462,365 463.4,365 464.8,365 466.2,365 467.6,365 469,365 470.4,365 471.9,365.1 473.3,365.1 474.7,365.1 476.1,365.1 477.5,365.1 478.9,365.1 480.3,365.1 481.7,365.1 483.1,365.1 484.6,365.1 486,365.1 487.4,365.1 488.8,365.1 490.2,365.2 491.6,365.2 493,365.2 494.4,365.2 495.8,365.2 497.3,365.2 498.7,365.2 500.1,365.2 501.5,365.2 502.9,365.2 504.3,365.2 505.7,365.2 507.1,365.3 508.5,365.3 510,365.3 511.4,365.3 512.8,365.3 514.2,365.3 515.6,365.3 515.9,366.4 519.6,367.6 518.8,368.8 517.2,369.1 515.6,369.5 514.1,369.9 512.5,370.3 513.8,371.6 513.4,372.9 515.6,374.2 517.5,373.4 519.5,372.7" fill="none" stroke="#006400" stroke-width="2" stroke-linejoin="round" stroke-linecap="round" />
<line x1="111.5" y1="140.5" x2="608.3" y2="140.5" class="g"/>
<line x1="111.5" y1="188.2" x2="608.3" y2="188.2" class="g"/>
<line x1="111.5" y1="236" x2="608.3" y2="236" class="g"/>
<line x1="111.5" y1="283.7" x2="608.3" y2="283.7" class="g"/>
<line x1="111.5" y1="331.5" x2="608.3" y2="331.5" class="g"/>
<line x1="111.5" y1="379.2" x2="608.3" y2="379.2" class="g"/>
<line x1="161.1" y1="111.5" x2="587.3" y2="111.5" stroke="#ff0000" stroke-width="2" stroke-linecap="round" />
<line x1="161.1" y1="111.5" x2="161.1" y2="95.5" stroke="#ff0000" stroke-width="2" stroke-linecap="round" />
<line x1="246.3" y1="111.5" x2="246.3" y2="95.5" stroke="#ff0000" stroke-width="2" stroke-linecap="round" />
<line x1="331.6" y1="111.5" x2="331.6" y2="95.5" stroke="#ff0000" stroke-width="2" stroke-linecap="round" />
<line x1="416.8" y1="111.5" x2="416.8" y2="95.5" stroke="#ff0000" stroke-width="2" stroke-linecap="round" />
<line x1="502.1" y1="111.5" x2="502.1" y2="95.5" stroke="#ff0000" stroke-width="2" stroke-linecap="round" />
<line x1="587.3" y1="111.5" x2="587.3" y2="95.5" stroke="#ff0000" stroke-width="2" stroke-linecap="round" />
<text transform="translate(161.1 82.50) scale(1 1.045)" fill="#ff0000" stroke="#ff0000" font-size="26.56" text-anchor="middle" >18.45</text>
<text transform="translate(331.6 82.50) scale(1 1.045)" fill="#ff0000" stroke="#ff0000" font-size="26.56" text-anchor="middle" >18.55</text>
<text transform="translate(502.1 82.50) scale(1 1.045)" fill="#ff0000" stroke="#ff0000" font-size="26.56" text-anchor="middle" >18.65</text>
<text transform="translate(359.9 35.30) scale(1 1.045)" fill="#ff0000" stroke="#ff0000" font-size="26.56" text-anchor="middle" >Temperature [ °C ]</text>
<line x1="218.1" y1="384.4" x2="493.5" y2="384.4" stroke="#006400" stroke-width="2" stroke-linecap="round" />
<line x1="218.1" y1="384.4" x2="218.1" y2="400.4" stroke="#006400" stroke-width="2" stroke-linecap="round" />
<line x1="355.8" y1="384.4" x2="355.8" y2="400.4" stroke="#006400" stroke-width="2" stroke-linecap="round" />
<line x1="493.5" y1="384.4" x2="493.5" y2="400.4" stroke="#006400" stroke-width="2" stroke-linecap="round" />
<text transform="translate(218.1 431.60) scale(1 1.045)" fill="#006400" stroke="#006400" font-size="26.56" text-anchor="middle" >34.55</text>
<text transform="translate(355.8 431.60) scale(1 1.045)" fill="#006400" stroke="#006400" font-size="26.56" text-anchor="middle" >34.60</text>
<text transform="translate(493.5 431.60) scale(1 1.045)" fill="#006400" stroke="#006400" font-size="26.56" text-anchor="middle" >34.65</text>
<text transform="translate(359.9 472.60) scale(1 1.045)" fill="#006400" stroke="#006400" font-size="26.56" text-anchor="middle" >Salinity</text>
<line x1="111.5" y1="140.5" x2="95.5" y2="140.5" stroke="#000" stroke-width="2" stroke-linecap="round" />
<line x1="111.5" y1="188.2" x2="95.5" y2="188.2" stroke="#000" stroke-width="2" stroke-linecap="round" />
<line x1="111.5" y1="236" x2="95.5" y2="236" stroke="#000" stroke-width="2" stroke-linecap="round" />
<line x1="111.5" y1="283.7" x2="95.5" y2="283.7" stroke="#000" stroke-width="2" stroke-linecap="round" />
<line x1="111.5" y1="331.5" x2="95.5" y2="331.5" stroke="#000" stroke-width="2" stroke-linecap="round" />
<line x1="111.5" y1="379.2" x2="95.5" y2="379.2" stroke="#000" stroke-width="2" stroke-linecap="round" />
<text transform="translate(83 140.50) rotate(-90) scale(1 1.045)" fill="#000" stroke="#000" font-size="26.56" text-anchor="middle" >4</text>
<text transform="translate(83 188.24) rotate(-90) scale(1 1.045)" fill="#000" stroke="#000" font-size="26.56" text-anchor="middle" >6</text>
<text transform="translate(83 235.98) rotate(-90) scale(1 1.045)" fill="#000" stroke="#000" font-size="26.56" text-anchor="middle" >8</text>
<text transform="translate(83 283.72) rotate(-90) scale(1 1.045)" fill="#000" stroke="#000" font-size="26.56" text-anchor="middle" >10</text>
<text transform="translate(83 379.20) rotate(-90) scale(1 1.045)" fill="#000" stroke="#000" font-size="26.56" text-anchor="middle" >14</text>
<text transform="translate(35.5 247.95) rotate(-90) scale(1 1.045)" fill="#000" stroke="#000" font-size="26.56" text-anchor="middle" >Pressure [ dbar ]</text>
<rect x="111.5" y="111.5" width="496.8" height="272.9" fill="none" stroke="#000" stroke-width="2" stroke-linejoin="round"/>
</g>
<g id="p2">
<polyline points="801.1,137.2 815,134.3 820,133.2 828.3,132 833.3,131.3 843,129.9 844,128.4 844.8,128.4 868,128.4 888.2,128.4 889,128.4 911.4,128.4 928.5,128.4 946.4,128.4 967.7,128.4 979,128.4 986,128.5 1000,128.8 1007.4,128.9 1023.2,129.2 1039.7,129.5 1041,129.5 1064.5,126.2 1071,125.3 1084,123.5 1085.4,123.4 1107.6,122 1108,122 1132.7,123.9 1134,124 1150,127.1 1152.8,127.6 1164,129.8 1166.4,132 1146.1,128.6 1145.2,129.1 1134,127.2 1123.9,126.6 1108,124.9 1100.7,125.5 1084,126.6 1075.8,127.7 1071,127.8 1054.1,129.9 1041,131.6 1037.6,131.6 1018.1,132 1000,131.7 993.9,131.3 979,130.9 971,131 950.7,131 925.3,131.1 905.1,131.8 888.2,131.3 876.9,131.1 853.3,131 874.7,133.4 888.2,133.2 902.6,132.8 920.2,133.4 948.5,132.8 964.6,132.5 979,132.4 985.5,132.9 1000,132.8 1001.2,133.5 1027.3,133.4 1041,132.6 1051.8,131.2 1071,129.3 1080,128.1 1084,128.1 1106.1,127.4 1108,126.7 1134,128.3 1134,128.8 1141.5,129.4 1157,132.1 1150,132.1 1149.9,131.6 1134,130.3 1127.3,129.2 1108,128.9 1104.5,128.7 1084,129 1078.9,130.2 1071,130.6 1058.1,132.1 1041,134 1038.8,133.7 1020.3,134.3 1000,134.6 996.4,134.1 979,134.8 970.1,134.1 945.5,134.7 924.7,134.5 900.2,134.3 888.2,134.7 873,134.1 801.1,137.4 815,137 817.6,137 820,137 833.3,137.3 842.2,137.4 843,136.7 844,136 864,136.2 888.2,136.8 888.4,136.5 911,136.5 933.7,136.1 956,136.1 975.4,135.8 979,135.9 1000,136.1 1002.6,136.6 1019.2,135.9 1041,135 1046.2,134.8 1071,132 1073,132.3 1084,131.4 1094.9,131.5 1108,130.5 1120.6,131.6 1129.6,131.4 1103,133.1 1087.7,133.5 1084,133.7 1071.3,134.6 1071,134.6 1052,136.5 1041,137.5 1027.6,137.8 1007,138.6 1000,138.6 981.9,138.8 979,138.2 965.3,138.8 938.8,138.3 921.5,138.5 901.3,139.3 888.2,139.4 882.3,138.6 856.2,138.8 828.4,139.8 833.3,140.6 843,140.7 844,140.4 848,139.7 871.6,140.3 888.2,140.8 894,140.9 920.7,140.5 941.9,140.1 962.1,140.2 979,139.8 986.1,140 1000,140.1 1011.3,140 1038.9,138.6 1041,138.3 1058.4,136.7 1071,135.8 1084,135.7 1085.5,135.5 1108,134.9 1113.9,135.7 1129.9,135.8 1143.6,138.4 1134,137.5 1131.7,137.4 1111.2,137.4 1108,137.4 1095.3,137.7 1084,137.6 1079.2,137.3 1071,137.8 1058.7,138.2 1041,139.8 1038.1,139.6 1011.7,141 1000,142.1 995.4,142 979,142.2 974.3,141.7 950.2,142.3 921.9,142.1 894.3,142.3 888.2,142.7 870.9,142.5 849.9,142.3 801.1,137.2 815,140.2 820,141.2 823,141.8 833.3,143.8 843,144 844,144 845.6,144 871.5,144.4 888.2,144.7 890.8,144.7 918.9,144.5 934.6,144.4 960.4,144.2 979,144.1 983.3,144.1 1000,144 1010.6,143.3 1028,142.2 1041,141.4 1052.5,140.7 1071,139.5 1080.4,139.5 1084,139.5 1104.6,139.6 1108,139.6 1119.9,139.7" fill="none" stroke="#0000ff" stroke-width="2" stroke-linejoin="round" stroke-linecap="round" />
<polyline points="979.3,128.5 843.5,128.5 846,130.6 870,129.8 900,130.5" fill="none" stroke="#0000ff" stroke-width="2" stroke-linejoin="round" stroke-linecap="round" />
<polyline points="900,136 850,135.4 801.1,137.2 838,139.4 870,140 833.3,143.8 888.2,144.7 930,143.5" fill="none" stroke="#0000ff" stroke-width="2" stroke-linejoin="round" stroke-linecap="round" />
<polyline points="1060,126 1084.2,122.9 1096,121.7 1108.4,121.3 1122,122 1134.4,123.7 1110,125.5 1160,127.5 1041.4,129.8 1164.2,130.2 1097,133.5 1168,133.3 1120,135.5 1172.6,137.6 1071,138 1150,139.6 1105,140.8" fill="none" stroke="#0000ff" stroke-width="2" stroke-linejoin="round" stroke-linecap="round" />
<polyline points="1105,140.8 1130,143 1105,146.4" fill="none" stroke="#0000ff" stroke-width="2" stroke-linejoin="round" stroke-linecap="round" />
<polyline points="1105,146.4 1103.4,146.5 1101.8,146.6 1100.2,146.7 1098.7,146.8 1097.1,146.9 1095.5,147 1093.9,147.1 1092.3,147.2 1090.7,147.3 1089.2,147.4 1087.6,147.5 1086,147.6 1084.4,147.8 1084.5,149 1083.3,150.2 1080.2,151.5 1081.8,151.7 1083.4,151.9 1085,152.1 1086.5,152.3 1088.1,152.5 1089.7,152.6 1091.2,152.8 1092.8,153 1094.4,153.2 1095.9,153.4 1097.5,153.6 1096,153.8 1094.5,154 1093,154.1 1091.5,154.3 1090,154.5 1088.5,154.7 1087,154.9 1085.5,155 1084,155.2 1082.5,155.4 1084,155.6 1085.5,155.8 1087,156 1088.5,156.2 1090,156.4 1091.5,156.6 1093,156.8 1094.5,157 1096,157.2 1097.5,157.4 1099,157.6 1100.5,157.8 1102,158 1103.5,158.2 1105,158.4 1106.5,158.6 1108,158.8 1109.5,159 1111,159.2 1112.5,159.4 1114,159.6 1115.5,159.8 1117,160 1118.5,160.2 1120,160.4 1121.5,160.6 1123,160.8 1124.5,161 1126,161.2 1127.5,161.4 1126,161.7 1124.4,162 1122.9,162.3 1121.3,162.7 1119.8,163 1118.2,163.3 1116.7,163.6 1115.2,163.9 1113.6,164.2 1112.1,164.6 1110.5,164.9 1109,165.2 1107.5,165.5 1105.9,165.8 1104.4,166.2 1102.8,166.5 1101.3,166.8 1099.8,167.1 1101.3,167.2 1102.9,167.3 1104.4,167.5 1106,167.6 1107.5,167.7 1109.1,167.8 1110.7,167.9 1112.2,168.1 1113.8,168.2 1115.3,168.3 1116.9,168.4 1118.4,168.5 1120,168.7 1121.6,168.8 1123.1,168.9 1124.7,169 1126.2,169.1 1127.8,169.3 1129.3,169.4 1130.9,169.5 1129.4,169.9 1127.8,170.3 1126.3,170.8 1124.8,171.2 1123.2,171.6 1121.7,172.1 1120.2,172.5 1118.6,172.9 1117.1,173.3 1115.6,173.8 1114,174.2 1112.5,174.6 1114,174.6 1115.5,174.6 1117,174.6 1118.6,174.6 1120.1,174.7 1121.6,174.7 1123.1,174.7 1124.6,174.7 1126.1,174.7 1127.7,174.7 1129.2,174.7 1130.7,174.7 1132.2,174.8 1133.7,174.8 1135.2,174.8 1136.8,174.8 1138.3,174.8 1139.8,174.8 1141.3,174.8 1142.8,174.8 1144.3,174.9 1145.9,174.9 1147.4,174.9 1148.9,174.9 1150.4,174.9 1148.8,175 1147.3,175 1145.7,175.1 1144.2,175.2 1142.6,175.2 1141.1,175.3 1139.5,175.4 1138,175.4 1136.4,175.5 1134.9,175.6 1133.3,175.7 1131.8,175.7 1130.2,175.8 1128.7,175.9 1127.1,175.9 1125.6,176 1124,176.1 1122.5,176.1 1120.9,176.2 1119.4,176.3 1117.8,176.3 1116.2,176.4 1117.8,176.5 1119.3,176.6 1120.8,176.8 1122.4,176.9 1123.9,177 1125.4,177.1 1127,177.3 1128.5,177.4 1130,177.5 1131.6,177.6 1133.1,177.8 1131.6,178.1 1130.2,178.5 1128.7,178.9 1127.3,179.2 1125.8,179.6 1124.4,180 1122.9,180.4 1121.5,180.7 1120,181.1 1121.5,181.5 1123,181.9 1124.6,182.4 1126.1,182.8 1127.6,183.2 1129.2,183.7 1130.7,184.1 1132.2,184.5 1130.5,185.2 1128.9,185.8 1127.2,186.4 1125.6,187.1 1127.2,187.7 1128.9,188.3 1130.5,189 1132.2,189.6 1129.8,190.8 1131.5,191.9 1127.8,193.1 1128.4,194.2 1127.8,195.7 1131.4,197.1 1132,198.5 1132.2,199.9 1133.5,201.8 1132,203.6 1131.2,205.5 1129.9,206.4 1127.6,207.4 1127.3,208.3 1125.6,209.2 1127.2,209.4 1128.7,209.5 1130.3,209.6 1131.8,209.7 1133.4,209.8 1135,209.9 1136.5,210.1 1138.1,210.2 1139.7,210.3 1141.2,210.4 1142.8,210.5 1144.3,210.7 1145.9,210.8 1147.5,210.9 1149,211 1150.6,211.1 1152.2,211.2 1153.7,211.3 1155.3,211.5 1156.8,211.6 1158.4,211.7 1156.9,211.7 1155.4,211.8 1153.9,211.8 1152.4,211.8 1150.9,211.9 1149.4,211.9 1147.8,212 1146.3,212 1144.8,212 1143.3,212.1 1141.8,212.1 1140.3,212.1 1138.8,212.2 1137.3,212.2 1135.8,212.2 1134.3,212.3 1132.8,212.3 1131.2,212.3 1129.7,212.4 1128.2,212.4 1126.7,212.5 1125.2,212.5 1123.7,212.5 1122.2,212.6 1120.7,212.6 1119.2,212.6 1117.7,212.7 1116.2,212.7 1114.7,212.7 1113.1,212.8 1111.6,212.8 1110.1,212.9 1108.6,212.9 1107.1,212.9 1105.6,213 1104.1,213 1104.8,214.1 1102.5,215.1 1100.9,216.2 1102.4,216.3 1103.9,216.3 1105.5,216.4 1107,216.5 1108.5,216.6 1110,216.6 1111.5,216.7 1113,216.8 1114.6,216.9 1116.1,216.9 1117.6,217 1119.1,217.1 1120.6,217.2 1122.1,217.2 1123.7,217.3 1125.2,217.4 1126.7,217.5 1128.2,217.5 1129.7,217.6 1131.2,217.7 1133.9,218.6 1132.8,219.6 1136,220.5 1136.5,221.4 1135,222.1 1133.4,222.8 1131.8,223.5 1130.3,224.2 1131.9,224.5 1133.5,224.8 1135.1,225.1 1136.7,225.4 1138.3,225.7 1139.9,226 1141.5,226.2 1143.1,226.5 1144.7,226.8 1146.2,227.1 1144.7,227.2 1143.2,227.3 1141.6,227.4 1140.1,227.5 1138.5,227.6 1137,227.7 1135.5,227.8 1133.9,227.9 1132.4,228 1130.8,228.1 1129.3,228.2 1127.8,228.3 1126.2,228.4 1124.7,228.5 1123.1,228.6 1121.6,228.7 1120,228.8 1118.5,228.9 1120,228.9 1121.5,228.9 1123,229 1124.5,229 1126,229 1127.5,229 1129,229.1 1130.5,229.1 1132,229.1 1133.5,229.1 1135,229.2 1136.5,229.2 1138,229.2 1139.5,229.2 1141,229.3 1142.5,229.3 1144,229.3 1145.5,229.3 1147,229.4 1148.5,229.4 1150,229.4 1151.5,229.4 1153,229.5 1154.5,229.5 1156,229.5 1157.5,229.5 1159,229.6 1160.5,229.6 1162,229.6 1163.5,229.6 1165,229.7 1166.5,229.7 1168,229.7 1169.5,229.7 1171,229.8 1172.5,229.8 1174,229.8 1175.5,229.8 1177,229.9 1178.5,229.9 1180,229.9 1178.4,230.1 1176.9,230.2 1175.3,230.4 1173.8,230.5 1172.2,230.7 1170.6,230.8 1169.1,231 1167.5,231.1 1165.9,231.3 1164.4,231.4 1162.8,231.6 1161.2,231.8 1162.8,232 1164.3,232.2 1165.8,232.4 1167.4,232.6 1168.9,232.8 1170.4,233 1172,233.2 1173.5,233.4 1175,233.6 1176.6,233.8 1178.1,234 1180.8,235.2 1181.9,236.4 1179.4,237.7 1181.2,238.9 1177.9,240.2 1178.1,241.5 1176.6,241.6 1175,241.6 1173.5,241.7 1172,241.8 1170.5,241.9 1168.9,241.9 1167.4,242 1165.9,242.1 1164.4,242.2 1162.8,242.2 1161.3,242.3 1159.8,242.4 1158.2,242.4 1156.7,242.5 1155.2,242.6 1153.7,242.7 1152.1,242.7 1150.6,242.8 1149.1,242.9 1147.6,243 1146,243 1144.5,243.1 1143,243.2 1141.5,243.3 1139.9,243.3 1138.4,243.4 1139.9,243.4 1141.4,243.5 1142.9,243.5 1144.4,243.6 1145.9,243.6 1147.5,243.7 1149,243.7 1150.5,243.8 1152,243.8 1153.5,243.9 1155,243.9 1156.5,243.9 1158,244 1159.5,244 1161,244.1 1162.6,244.1 1164.1,244.2 1165.6,244.2 1167.1,244.3 1168.6,244.3 1170.1,244.4 1171.6,244.4 1173.1,244.4 1174.6,244.5 1176.1,244.5 1177.6,244.6 1179.2,244.6 1180.7,244.7 1182.2,244.7 1183.7,244.8 1185.2,244.8 1186.7,244.8 1188.2,244.9 1189.7,244.9 1191.2,245 1192.7,245 1194.2,245.1 1195.8,245.1 1197.3,245.2 1198.8,245.2 1200.3,245.3 1201.8,245.3 1203.3,245.3 1204.8,245.4 1206.3,245.4 1207.8,245.5 1209.3,245.5 1210.9,245.6 1212.4,245.6 1213.9,245.7 1215.4,245.7 1216.9,245.8 1218.4,245.8 1216.9,246.2 1215.5,246.5 1214,246.8 1212.5,247.2 1211,247.6 1209.6,247.9 1208.1,248.2 1209.6,248.4 1211.1,248.5 1212.7,248.7 1214.2,248.8 1215.7,249 1217.2,249.1 1218.8,249.2 1220.3,249.4 1221.8,249.5 1223.3,249.7 1224.9,249.8 1226.4,249.9 1227.9,250.1 1229.5,250.2 1231,250.4 1232.5,250.5 1231,250.6 1229.5,250.6 1227.9,250.7 1226.4,250.7 1224.9,250.8 1223.4,250.8 1221.9,250.9 1220.3,250.9 1218.8,251 1217.3,251 1215.8,251.1 1214.3,251.1 1212.7,251.2 1211.2,251.2 1209.7,251.3 1208.2,251.3 1206.6,251.4 1205.1,251.4 1203.6,251.5 1202.1,251.5 1200.6,251.6 1199,251.6 1197.5,251.7 1196,251.7 1194.5,251.8 1193,251.8 1191.4,251.9 1189.9,251.9 1188.4,252 1189.9,252 1191.4,252 1193,252.1 1194.5,252.1 1196,252.1 1197.5,252.1 1199.1,252.2 1200.6,252.2 1202.1,252.2 1203.6,252.2 1205.2,252.3 1206.7,252.3 1208.2,252.3 1209.7,252.3 1211.2,252.3 1212.8,252.4 1214.3,252.4 1215.8,252.4 1217.3,252.4 1218.9,252.5 1220.4,252.5 1221.9,252.5 1223.4,252.5 1225,252.6 1226.5,252.6 1228,252.6 1226.4,252.6 1224.9,252.7 1223.3,252.7 1221.8,252.8 1220.2,252.8 1218.7,252.9 1217.1,252.9 1215.6,253 1214,253 1212.4,253 1210.9,253.1 1209.3,253.1 1207.8,253.2 1206.2,253.2 1204.7,253.3 1203.1,253.3 1201.6,253.4 1200,253.4 1201.5,253.4 1203,253.5 1204.6,253.5 1206.1,253.5 1207.6,253.6 1209.1,253.6 1210.7,253.6 1212.2,253.7 1213.7,253.7 1215.2,253.7 1216.8,253.8 1218.3,253.8 1219.8,253.8 1221.3,253.9 1222.9,253.9 1224.4,253.9 1225.9,254 1227.4,254 1229,254 1230.5,254.1 1232,254.1 1233.5,254.2 1235.1,254.2 1236.6,254.2 1238.1,254.3 1239.6,254.3 1241.2,254.3 1242.7,254.4 1244.2,254.4 1245.7,254.4 1247.3,254.5 1248.8,254.5 1250.3,254.5 1251.8,254.6 1253.4,254.6 1254.9,254.6 1256.4,254.7 1257.9,254.7 1259.5,254.7 1261,254.8 1262.5,254.8 1261,254.8 1259.4,254.9 1257.9,254.9 1256.4,254.9 1254.8,254.9 1253.3,255 1251.8,255 1250.2,255 1248.7,255 1247.2,255.1 1245.6,255.1 1244.1,255.1 1242.6,255.1 1241,255.2 1239.5,255.2 1238,255.2 1236.5,255.2 1234.9,255.3 1233.4,255.3 1231.9,255.3 1230.3,255.3 1228.8,255.4 1227.3,255.4 1225.7,255.4 1224.2,255.4 1222.7,255.5 1221.1,255.5 1219.6,255.5 1218.1,255.5 1216.5,255.6 1215,255.6 1216.6,255.6 1218.1,255.7 1219.7,255.7 1221.2,255.8 1222.8,255.8 1224.4,255.8 1225.9,255.9 1227.5,255.9 1229.1,255.9 1230.6,256 1232.2,256 1233.8,256.1 1235.3,256.1 1236.9,256.1 1238.4,256.2 1240,256.2 1238.5,256.2 1237,256.2 1235.5,256.2 1234,256.3 1232.5,256.3 1231,256.3 1229.5,256.3 1227.9,256.3 1226.4,256.3 1224.9,256.4 1223.4,256.4 1221.9,256.4 1220.4,256.4 1218.9,256.4 1217.4,256.4 1215.9,256.4 1214.4,256.5 1212.9,256.5 1211.4,256.5 1209.9,256.5 1208.4,256.5 1206.9,256.5 1205.3,256.5 1203.8,256.6 1202.3,256.6 1200.8,256.6 1199.3,256.6 1197.8,256.6 1196.3,256.6 1194.8,256.6 1193.3,256.7 1191.8,256.7 1190.3,256.7 1188.8,256.7 1187.3,256.7 1185.8,256.7 1184.3,256.8 1182.7,256.8 1181.2,256.8 1179.7,256.8 1178.2,256.8 1176.7,256.8 1175.2,256.8 1173.7,256.9 1172.2,256.9 1170.7,256.9 1169.2,256.9 1167.7,256.9 1166.2,256.9 1164.7,257 1163.2,257 1161.7,257 1160.1,257 1158.6,257 1157.1,257 1155.6,257 1154.1,257.1 1152.6,257.1 1151.1,257.1 1149.6,257.1 1151.1,257.1 1152.6,257.2 1154.1,257.2 1155.7,257.2 1157.2,257.2 1158.7,257.3 1160.2,257.3 1161.7,257.3 1163.2,257.4 1164.7,257.4 1166.2,257.4 1167.8,257.5 1169.3,257.5 1170.8,257.5 1172.3,257.6 1173.8,257.6 1175.3,257.6 1176.8,257.6 1178.4,257.7 1179.9,257.7 1181.4,257.7 1182.9,257.8 1184.4,257.8 1185.9,257.8 1187.4,257.9 1188.9,257.9 1190.5,257.9 1192,257.9 1193.5,258 1195,258 1193.5,258.1 1191.9,258.1 1190.4,258.2 1188.8,258.2 1187.3,258.3 1185.8,258.4 1184.2,258.4 1182.7,258.5 1181.1,258.5 1179.6,258.6 1178,258.6 1176.5,258.7 1175,258.8 1173.4,258.8 1171.9,258.9 1170.3,258.9 1168.8,259 1167.2,259 1165.7,259.1 1164.2,259.2 1162.6,259.2 1161.1,259.3 1159.5,259.3 1158,259.4 1159.5,259.4 1161.1,259.5 1162.6,259.5 1164.2,259.5 1165.7,259.5 1167.3,259.6 1168.8,259.6 1170.4,259.6 1171.9,259.6 1173.5,259.7 1175,259.7 1176.5,259.7 1178.1,259.8 1179.6,259.8 1181.2,259.8 1182.7,259.8 1184.3,259.9 1185.8,259.9 1187.4,259.9 1188.9,259.9 1190.5,260 1192,260 1190.5,260 1189,260.1 1187.4,260.1 1185.9,260.2 1184.4,260.2 1182.9,260.2 1181.4,260.3 1179.8,260.3 1178.3,260.4 1176.8,260.4 1175.3,260.4 1173.8,260.5 1172.2,260.5 1170.7,260.6 1169.2,260.6 1167.7,260.6 1166.2,260.7 1164.6,260.7 1163.1,260.8 1161.6,260.8 1160.1,260.8 1158.6,260.9 1157,260.9 1155.5,261 1154,261 1155.5,261 1157,261.1 1158.6,261.1 1160.1,261.2 1161.6,261.2 1163.1,261.2 1164.7,261.3 1166.2,261.3 1167.7,261.3 1169.2,261.4 1170.8,261.4 1172.3,261.5 1173.8,261.5 1175.3,261.5 1176.9,261.6 1178.4,261.6 1179.9,261.6 1181.4,261.7 1183,261.7 1184.5,261.8 1186,261.8 1184.5,261.8 1183,261.9 1181.4,261.9 1179.9,261.9 1178.4,262 1176.9,262 1175.4,262 1173.8,262.1 1172.3,262.1 1170.8,262.1 1169.3,262.2 1167.8,262.2 1166.2,262.2 1164.7,262.2 1163.2,262.3 1161.7,262.3 1160.2,262.3 1158.6,262.4 1157.1,262.4 1155.6,262.4 1154.1,262.5 1152.6,262.5 1151,262.5 1149.5,262.6 1148,262.6 1149.6,262.6 1151.1,262.7 1152.7,262.7 1154.2,262.7 1155.8,262.7 1157.3,262.8 1158.9,262.8 1160.4,262.8 1162,262.9 1163.6,262.9 1165.1,262.9 1166.7,262.9 1168.2,263 1169.8,263 1171.3,263 1172.9,263 1174.4,263.1 1176,263.1 1174.5,263.1 1173,263.1 1171.5,263.2 1170,263.2 1168.5,263.2 1167,263.2 1165.5,263.2 1164,263.3 1162.5,263.3 1161,263.3 1159.5,263.3 1158,263.3 1156.5,263.4 1154.9,263.4 1153.4,263.4 1151.9,263.4 1150.4,263.4 1148.9,263.4 1147.4,263.5 1145.9,263.5 1144.4,263.5 1142.9,263.5 1141.4,263.5 1139.9,263.6 1138.4,263.6 1136.9,263.6 1135.4,264 1133.9,264.4 1132.4,264.7 1130.9,265.1 1129.4,265.5 1130.9,265.5 1132.4,265.6 1133.9,265.6 1135.4,265.6 1136.9,265.6 1138.4,265.7 1139.9,265.7 1141.4,265.7 1142.9,265.7 1144.4,265.8 1145.9,265.8 1147.4,265.8 1148.9,265.8 1150.4,265.9 1151.9,265.9 1153.4,265.9 1154.9,265.9 1156.4,266 1157.9,266 1159.4,266 1160.9,266 1162.4,266.1 1163.9,266.1 1165.4,266.1 1166.9,266.1 1168.4,266.2 1169.9,266.2 1171.4,266.2 1172.9,266.2 1174.4,266.3 1175.9,266.3 1177.4,266.3 1178.9,266.3 1180.4,266.4 1181.9,266.4 1183.4,266.4 1184.9,266.4 1186.4,266.5 1187.9,266.5 1189.4,266.5 1190.9,266.5 1192.4,266.6 1193.9,266.6 1195.4,266.6 1196.9,266.6 1198.4,266.7 1199.9,266.7 1201.4,266.7 1202.9,266.7 1204.4,266.8 1205.9,266.8 1207.4,266.8 1208.9,266.8 1210.4,266.9 1211.9,266.9 1213.4,266.9 1214.9,266.9 1216.4,267 1217.9,267 1219.4,267 1220.9,267 1222.4,267.1 1223.9,267.1 1225.4,267.1 1226.9,267.1 1228.4,267.2 1229.9,267.2 1231.4,267.2 1232.9,267.2 1234.4,267.3 1235.9,267.3 1237.4,267.3 1238.9,267.3 1240.4,267.4 1241.9,267.4 1240.3,267.5 1238.8,267.5 1237.2,267.6 1235.6,267.7 1234.1,267.8 1232.5,267.9 1230.9,267.9 1229.4,268 1227.8,268.1 1226.2,268.1 1224.7,268.2 1223.1,268.3 1224.8,268.9 1226.5,269.4 1228.2,270 1229.9,270.5 1231.6,271.1 1230.2,273 1229.4,274.9 1230.6,276.8 1231.1,278.4 1229.1,280.1 1232.1,281.8 1230.2,283.5 1231.8,283.8 1233.4,284.2 1235,284.5 1236.6,284.8 1238.2,285.2 1239.8,285.5 1238.3,285.8 1236.8,286 1235.4,286.3 1233.9,286.5 1232.4,286.8 1230.9,287 1229.4,287.3 1227.9,287.5 1226.5,287.8 1225,288 1223.5,288.3 1225.1,288.4 1226.6,288.6 1228.2,288.8 1229.8,288.9 1231.3,289.1 1232.9,289.2 1234.4,289.4 1236,289.5 1234.5,289.6 1232.9,289.6 1231.4,289.7 1229.9,289.8 1228.4,289.8 1226.8,289.9 1225.3,290 1223.8,290 1222.2,290.1 1220.7,290.1 1219.2,290.2 1217.6,290.3 1216.1,290.3 1214.6,290.4 1213.1,290.5 1211.5,290.5 1210,290.6 1211.6,290.7 1213.1,290.7 1214.7,290.8 1216.3,290.8 1217.9,290.9 1219.4,290.9 1221,291 1222.6,291.1 1224.1,291.1 1225.7,291.2 1227.3,291.2 1228.9,291.3 1230.4,291.3 1232,291.4 1230.5,291.4 1229,291.5 1227.4,291.5 1225.9,291.6 1224.4,291.6 1222.9,291.7 1221.3,291.7 1219.8,291.8 1218.3,291.8 1216.8,291.9 1215.2,291.9 1213.7,292 1212.2,292 1210.7,292 1209.2,292.1 1207.6,292.1 1206.1,292.2 1204.6,292.2 1203.1,292.3 1201.5,292.3 1200,292.4 1198.5,292.4 1197,292.5 1195.4,292.5 1193.9,292.6 1192.4,292.6 1193.9,292.7 1195.5,292.7 1197,292.8 1198.6,292.8 1200.1,292.9 1201.6,293 1203.2,293 1204.7,293.1 1206.3,293.1 1207.8,293.2 1209.3,293.3 1210.9,293.3 1212.4,293.4 1214,293.5 1215.5,293.5 1217,293.6 1218.6,293.6 1220.1,293.7 1221.6,293.8 1223.2,293.8 1224.7,293.9 1226.3,293.9 1227.8,294 1229.3,294.1 1230.9,294.1 1232.4,294.2 1234,294.2 1235.5,294.3 1234,294.3 1232.5,294.2 1230.9,294.2 1229.4,294.2 1227.9,294.1 1226.3,294.1 1224.8,294.1 1223.3,294 1221.8,294 1220.2,294 1218.7,293.9 1217.2,293.9 1215.7,293.8 1214.2,293.8 1212.6,293.8 1211.1,293.7 1209.6,293.7 1208,293.7 1206.5,293.6 1205,293.6 1206.5,293.7 1208.1,293.8 1209.6,293.9 1211.1,293.9 1212.6,294 1214.2,294.1 1215.7,294.2 1217.2,294.3 1218.7,294.4 1220.3,294.4 1221.8,294.5 1223.3,294.6 1224.8,294.7 1226.4,294.8 1227.9,294.9 1229.4,294.9 1230.9,295 1232.5,295.1 1234,295.2 1232.5,295.3 1230.9,295.3 1229.4,295.4 1227.8,295.4 1226.3,295.5 1224.8,295.6 1223.2,295.6 1221.7,295.7 1220.2,295.8 1218.6,295.8 1217.1,295.9 1215.5,295.9 1214,296 1215.6,296.1 1217.1,296.1 1218.7,296.2 1220.3,296.2 1221.9,296.3 1223.4,296.3 1225,296.4 1226.6,296.5 1228.1,296.5 1229.7,296.6 1231.3,296.6 1232.9,296.7 1234.4,296.7 1236,296.8 1234.5,296.9 1233,297 1231.5,297.1 1230,297.1 1228.5,297.2 1227,297.3 1225.4,297.4 1223.9,297.5 1222.4,297.6 1220.9,297.6 1219.4,297.7 1217.9,297.8 1216.4,297.9 1218,298 1219.5,298 1221.1,298.1 1222.6,298.2 1224.2,298.3 1225.7,298.4 1227.2,298.4 1228.8,298.5 1230.3,298.6 1231.9,298.6 1233.5,298.7 1235,298.8 1233.5,298.9 1232,299 1230.5,299 1229,299.1 1227.5,299.2 1226,299.3 1224.5,299.4 1223,299.4 1221.5,299.5 1220,299.6 1221.5,299.7 1223,299.8 1224.6,299.9 1226.1,300 1227.6,300.1 1229.1,300.3 1230.6,300.4 1232.1,300.5 1233.7,300.6 1235.2,300.7 1236.7,300.8 1235.1,300.9 1233.4,301.1 1231.8,301.2 1230.2,301.3 1228.5,301.5 1226.9,301.6 1225.3,301.7 1223.6,301.9 1222,302 1223.5,302.1 1225,302.2 1226.5,302.4 1228,302.5 1229.5,302.6 1231,302.8 1232.5,302.9 1234,303 1232.5,303.1 1231,303.3 1229.5,303.4 1228,303.5 1226.5,303.6 1225,303.8 1223.5,303.9 1222.9,304.9 1227,305.9 1228,306.9 1228.5,307.9 1229.8,308.8 1231.8,309.8 1232.4,310.8 1231.8,311.8 1234.3,312.8 1232.5,313.3 1230.7,313.8 1228.9,314.2 1227.1,314.7 1229.2,315.9 1228.6,317.1 1230.4,318.3 1231.1,319.5 1233.6,320.7 1233.1,321.9 1232.6,323.5 1234,325.1 1231,326.7 1231.7,328.3 1232.7,329.9 1231.9,331.5 1232.7,333.1 1233.9,334.7 1232,336.2 1234.6,337.8 1235,339.4 1234.3,341 1231.8,342 1230.6,342.9 1231,343.9 1231.2,344.8 1228.3,345.8 1229.9,346.8 1230.4,347.7 1231.9,348.7 1234.2,349.6 1234.3,350.6 1233.2,351.7 1232,352.7 1231,353.8 1231.1,354.8 1229.4,355.9 1228.3,356.9 1225.1,357.9 1224.7,359 1226.4,359.5 1228.1,360 1229.7,360.4 1231.4,360.9 1233.1,361.4 1232.1,362.4 1231.5,363.5 1229,364.5 1227.5,364.5 1226,364.5 1224.5,364.5 1223,364.6 1221.5,364.6 1220,364.6 1218.5,364.6 1217,364.6 1215.5,364.6 1214,364.6 1212.5,364.6 1211,364.6 1209.5,364.7 1208,364.7 1206.5,364.7 1205,364.7 1203.5,364.7 1202,364.7 1200.5,364.7 1199,364.8 1197.4,364.8 1195.9,364.8 1194.4,364.8 1192.9,364.8 1191.4,364.8 1189.9,364.8 1188.4,364.8 1186.9,364.9 1185.4,364.9 1183.9,364.9 1182.4,364.9 1180.9,364.9 1179.4,364.9 1177.9,364.9 1176.4,364.9 1174.9,364.9 1173.4,365 1171.9,365 1170.4,365 1168.9,365 1170.4,365 1171.9,365 1173.5,365 1175,365.1 1176.5,365.1 1178,365.1 1179.6,365.1 1181.1,365.1 1182.6,365.1 1184.1,365.1 1185.7,365.1 1187.2,365.2 1188.7,365.2 1190.2,365.2 1191.7,365.2 1193.3,365.2 1194.8,365.2 1196.3,365.2 1197.8,365.2 1199.4,365.3 1200.9,365.3 1202.4,365.3 1203.9,365.3 1205.5,365.3 1207,365.3 1208.5,365.3 1210,365.3 1211.5,365.4 1213.1,365.4 1214.6,365.4 1216.1,365.4 1217.6,365.4 1219.2,365.4 1220.7,365.4 1222.2,365.4 1223.7,365.5 1225.3,365.5 1226.8,365.5 1228.3,365.5 1230.3,366.6 1232.3,367.6 1233.4,368.7 1233.1,369.8 1231.6,370.7 1230.1,371.6 1228.6,372.5 1227.1,373.4 1228.7,373.8 1230.3,374.2 1231.9,374.6" fill="none" stroke="#0000ff" stroke-width="2" stroke-linejoin="round" stroke-linecap="round" />
<polygon points="942,121 1080,121 1090,123.5 1090,146.6 983,146.6 899,146 899,131 942,128" fill="#a52a2a" stroke="#a52a2a" stroke-width="1.5" stroke-linejoin="round"/>
<polyline points="981.1,125.4 801.1,124.8 991.1,124.4 990.2,124.8 1023.5,126.9 843.5,126.3 1033.5,125.9 1020.7,126.3 1023.5,128.2 843.5,127.6 1033.5,127.2 1008.6,127.6 1031.9,133.2 851.9,132.6 1041.9,132.2 996.4,132.6 1047.7,136.6 867.7,136 1057.7,135.6 1020.1,136 1068.2,143.4 888.2,142.8 1078.2,142.4 1058.7,142.8 1060,140.1 880,139.5 1070,139.1 1041.5,139.5 1085,145.2 905,144.6 1095,144.2 987.9,144.6 1118.4,122.6 938.4,122 1128.4,121.6 999.8,122 1100,123.9 920,123.3 1110,122.9 1009.6,123.3" fill="none" stroke="#a52a2a" stroke-width="2" stroke-linejoin="round" stroke-linecap="round" />
<polyline points="1053.1,121.9 1079.6,121.4 1027.6,120.9 1009.6,126 1141.9,125.5 1033,125 1014.8,127.9 1158.6,127.4 1002.3,126.9 1035.6,132.5 1183.7,132 1059.5,131.5 1046.6,136.5 1235.8,136 1044.2,135.5 1009.2,142 1262.4,141.5 1033.7,141 1038.2,144.6 1225.6,144.1 1045.5,143.6 1026.8,124.1 1110,123.6 1003.2,123.1 1055.7,131.5 1118,131 1015.9,130.5 1044.3,140.3 1125,139.8 1027.9,139.3 1046.8,143.7 1160,143.2 1020.3,142.7 1005.5,146.5 1120,146 1025.7,145.5" fill="none" stroke="#a52a2a" stroke-width="2" stroke-linejoin="round" stroke-linecap="round" />
<polyline points="936.5,133.5 1082.5,134 932.6,131 1076.5,132.2 886.5,144.7 1094.3,145.5 891.9,138.6 1091.1,139.4 947.6,137 1096.6,137.4 894.3,144.2 1079.8,144.3 946.9,134.5 1088.5,134.9 946.5,136.9 1082.4,137.6 911.2,136.4 1080.8,135.4 940.1,122.3 1079.8,121 907.8,133.7 1096.1,134.5 940.1,138 1079.1,136.8 899.8,136.6 1097.6,136.4 901,143.3 1074.4,143.6 901.6,138.6 1096.1,140 948.8,138.5 1097.6,137.4 933.5,139.5 1091,139 923.2,135 1094.1,133.7 905.5,131 1092.6,129.9 933.5,123.5 1075,123.3 908.1,142.8 1074.6,143.3 947.1,130 1091.4,129.9 925.3,139.6 1094.1,140.4 933.5,143.6 1079.3,143.6 936,140.5 1091,141.6 920.2,141.8 1088.7,140.4 932.2,133.5 1095.8,134.5 899.9,132.5 1095,133 931.1,126.6 1094.8,126.8 959.7,124.6 1087.3,125.4 901.6,141.4 1085.6,140.4 913.2,136.7 1092.5,135.5 941.6,126.9 1072,126.7 941.3,145.1 1076.7,146.1 937.2,127.4 1088.6,126.8 932.6,126.8 1076.6,125.9 887.7,143.9 1086,143 885.2,139.3 1081.7,140 942.3,122.6 1080.5,122.6 890.2,137.1 1094.5,136.4" fill="none" stroke="#a52a2a" stroke-width="2" stroke-linejoin="round" stroke-linecap="round" />
<path d="M983.4,146.8C987.7,147.1 998.1,147.1 1005,148.3C1011.9,149.5 1016.6,150.5 1018.1,152.6C1019.6,154.7 1013.8,155.1 1012.5,158.6C1011.2,162.1 1011.4,166.8 1011.6,169.9C1011.8,173 1012,173 1013.4,174C1014.8,175 1019.4,174.2 1018.5,174.9C1017.6,175.6 1010.1,175.8 1008.8,177.4C1007.4,179 1011.2,180 1011.6,183C1012,186 1010.4,189 1010.6,192.4C1010.8,195.8 1012.9,197.3 1012.5,199.9C1012.1,202.5 1007.5,203.6 1008.8,205.5C1010,207.4 1020.3,208.3 1018.5,209.6C1016.7,210.9 1000,210.7 999.8,212.1C999.5,213.5 1015.2,215.1 1017.2,216.8C1019.2,218.4 1010.6,218.8 1009.7,220.5C1008.8,222.2 1010.3,223.4 1012.5,225.2C1014.7,227 1021.3,227.8 1020.9,229.5C1020.5,231.2 1013,231.7 1010.6,233.6C1008.2,235.5 1006.2,236.6 1008.8,239.2C1011.3,241.9 1024.9,244.4 1023.4,246.8C1021.9,249.1 1000.5,249.7 1001.2,250.9C1002,252.1 1028.8,251.8 1027.1,252.8C1025.4,253.7 995.7,254.4 992.8,255.6C989.9,256.8 1009.7,257.3 1012.5,258.9C1015.3,260.5 996.1,262.2 1006.9,263.6C1017.7,265 1067.4,265.2 1066.6,266C1065.8,266.8 1014.1,266.4 1003.1,267.4C992.1,268.4 1009.7,268.5 1011.6,271.1C1013.5,273.7 1012.8,278 1012.5,280.5C1012.2,283 1011.5,281.2 1010.3,283.5C1009.1,285.8 1004.5,289.9 1006.7,291.9C1008.9,293.9 1020.8,293.1 1021.1,293.6C1021.4,294.1 1008.6,294.1 1008,294.4C1007.4,294.7 1018,294.9 1018,295.2C1018,295.5 1008.1,295.7 1007.9,296C1007.7,296.3 1016.8,296.6 1017,296.9C1017.2,297.2 1009.1,297.3 1009,297.6C1008.9,297.9 1016.3,297.9 1016.3,298.4C1016.3,298.9 1010.1,298.5 1009.1,300.3C1008.1,302.1 1010.9,305.4 1011.5,307.5C1012.1,309.6 1012.1,309.5 1011.9,310.8C1011.8,312.1 1011,312.8 1010.8,314.1C1010.5,315.4 1010.6,316.1 1010.6,317.4C1010.6,318.7 1010.8,319.4 1010.8,320.7C1010.8,322 1010.5,322.7 1010.5,324C1010.5,325.3 1010.8,325.9 1010.8,327.3C1010.8,328.6 1010.6,329.2 1010.5,330.6C1010.5,331.9 1010.2,332.5 1010.4,333.9C1010.6,335.2 1011.6,335.8 1011.7,337.1C1011.9,338.5 1011.3,339.1 1011.1,340.4C1011,341.8 1011,342.4 1011,343.7C1011,345 1010.9,345.7 1011,347C1011.1,348.3 1011.7,349 1011.5,350.3C1011.3,351.6 1010.4,352.3 1010.1,353.6C1009.8,354.9 1009.9,355.6 1010,356.9C1010.2,358.2 1010.7,358.8 1010.8,360.2C1010.9,361.6 1014.9,363 1010.6,363.9C1006.3,364.8 984.7,364.3 989.2,364.5C993.7,364.7 1028.9,364.7 1033.1,365C1037.3,365.3 1014.8,365.2 1010.3,365.8C1005.8,366.4 1010.3,366.2 1010.5,368C1010.7,369.8 1011.3,373.3 1011.5,374.6" fill="none" stroke="#a52a2a" stroke-width="2" stroke-linejoin="round" stroke-linecap="round"/>
<line x1="783.5" y1="140.5" x2="1280.3" y2="140.5" class="g"/>
<line x1="783.5" y1="188.2" x2="1280.3" y2="188.2" class="g"/>
<line x1="783.5" y1="236" x2="1280.3" y2="236" class="g"/>
<line x1="783.5" y1="283.7" x2="1280.3" y2="283.7" class="g"/>
<line x1="783.5" y1="331.5" x2="1280.3" y2="331.5" class="g"/>
<line x1="783.5" y1="379.2" x2="1280.3" y2="379.2" class="g"/>
<line x1="848.6" y1="111.5" x2="1220.9" y2="111.5" stroke="#0000ff" stroke-width="2" stroke-linecap="round" />
<line x1="848.6" y1="111.5" x2="848.6" y2="95.5" stroke="#0000ff" stroke-width="2" stroke-linecap="round" />
<line x1="972.7" y1="111.5" x2="972.7" y2="95.5" stroke="#0000ff" stroke-width="2" stroke-linecap="round" />
<line x1="1096.8" y1="111.5" x2="1096.8" y2="95.5" stroke="#0000ff" stroke-width="2" stroke-linecap="round" />
<line x1="1220.9" y1="111.5" x2="1220.9" y2="95.5" stroke="#0000ff" stroke-width="2" stroke-linecap="round" />
<text transform="translate(848.6 82.50) scale(1 1.045)" fill="#0000ff" stroke="#0000ff" font-size="26.56" text-anchor="middle" >24.75</text>
<text transform="translate(972.7 82.50) scale(1 1.045)" fill="#0000ff" stroke="#0000ff" font-size="26.56" text-anchor="middle" >24.80</text>
<text transform="translate(1096.8 82.50) scale(1 1.045)" fill="#0000ff" stroke="#0000ff" font-size="26.56" text-anchor="middle" >24.85</text>
<text transform="translate(1220.9 82.50) scale(1 1.045)" fill="#0000ff" stroke="#0000ff" font-size="26.56" text-anchor="middle" >24.90</text>
<g transform="translate(0 35.2) scale(1 1.045) translate(0 -35.2)"><text y="35.2" fill="#0000ff" stroke="#0000ff" font-size="26.56"><tspan x="1177" text-anchor="end" textLength="350.7" lengthAdjust="spacing">Potential density anomaly [ kg</tspan><tspan x="1179.6" y="39" font-size="36.5" textLength="9.6" lengthAdjust="spacingAndGlyphs">/</tspan><tspan x="1192.1" y="35.2">m</tspan><tspan x="1214" y="23" font-size="18.6">3</tspan><tspan x="1230.9" y="35.2">]</tspan></text></g>
<line x1="823.8" y1="384.4" x2="1198.3" y2="384.4" stroke="#a52a2a" stroke-width="2" stroke-linecap="round" />
<line x1="823.8" y1="384.4" x2="823.8" y2="400.4" stroke="#a52a2a" stroke-width="2" stroke-linecap="round" />
<line x1="917.4" y1="384.4" x2="917.4" y2="400.4" stroke="#a52a2a" stroke-width="2" stroke-linecap="round" />
<line x1="1011" y1="384.4" x2="1011" y2="400.4" stroke="#a52a2a" stroke-width="2" stroke-linecap="round" />
<line x1="1104.7" y1="384.4" x2="1104.7" y2="400.4" stroke="#a52a2a" stroke-width="2" stroke-linecap="round" />
<line x1="1198.3" y1="384.4" x2="1198.3" y2="400.4" stroke="#a52a2a" stroke-width="2" stroke-linecap="round" />
<text transform="translate(823.8 431.60) scale(1 1.045)" fill="#a52a2a" stroke="#a52a2a" font-size="26.56" text-anchor="middle" >-0.02</text>
<text transform="translate(917.4 431.60) scale(1 1.045)" fill="#a52a2a" stroke="#a52a2a" font-size="26.56" text-anchor="middle" >-0.01</text>
<text transform="translate(1011 431.60) scale(1 1.045)" fill="#a52a2a" stroke="#a52a2a" font-size="26.56" text-anchor="middle" >0.00</text>
<text transform="translate(1104.7 431.60) scale(1 1.045)" fill="#a52a2a" stroke="#a52a2a" font-size="26.56" text-anchor="middle" >0.01</text>
<text transform="translate(1198.3 431.60) scale(1 1.045)" fill="#a52a2a" stroke="#a52a2a" font-size="26.56" text-anchor="middle" >0.02</text>
<g transform="translate(0 467.5) scale(1 1.045) translate(0 -467.5)"><text x="1032.5" y="467.5" fill="#a52a2a" stroke="#a52a2a" font-size="26.56" text-anchor="middle">N<tspan font-size="18.6" dy="-12.8">2</tspan><tspan dy="12.8" dx="-1.2"> [ s</tspan><tspan font-size="18.6" dy="-12.8">−2</tspan><tspan dy="12.8"> ]</tspan></text></g>
<line x1="783.5" y1="140.5" x2="767.5" y2="140.5" stroke="#000" stroke-width="2" stroke-linecap="round" />
<line x1="783.5" y1="188.2" x2="767.5" y2="188.2" stroke="#000" stroke-width="2" stroke-linecap="round" />
<line x1="783.5" y1="236" x2="767.5" y2="236" stroke="#000" stroke-width="2" stroke-linecap="round" />
<line x1="783.5" y1="283.7" x2="767.5" y2="283.7" stroke="#000" stroke-width="2" stroke-linecap="round" />
<line x1="783.5" y1="331.5" x2="767.5" y2="331.5" stroke="#000" stroke-width="2" stroke-linecap="round" />
<line x1="783.5" y1="379.2" x2="767.5" y2="379.2" stroke="#000" stroke-width="2" stroke-linecap="round" />
<text transform="translate(755 140.50) rotate(-90) scale(1 1.045)" fill="#000" stroke="#000" font-size="26.56" text-anchor="middle" >4</text>
<text transform="translate(755 188.24) rotate(-90) scale(1 1.045)" fill="#000" stroke="#000" font-size="26.56" text-anchor="middle" >6</text>
<text transform="translate(755 235.98) rotate(-90) scale(1 1.045)" fill="#000" stroke="#000" font-size="26.56" text-anchor="middle" >8</text>
<text transform="translate(755 283.72) rotate(-90) scale(1 1.045)" fill="#000" stroke="#000" font-size="26.56" text-anchor="middle" >10</text>
<text transform="translate(755 379.20) rotate(-90) scale(1 1.045)" fill="#000" stroke="#000" font-size="26.56" text-anchor="middle" >14</text>
<text transform="translate(707.5 247.95) rotate(-90) scale(1 1.045)" fill="#000" stroke="#000" font-size="26.56" text-anchor="middle" >Pressure [ dbar ]</text>
<rect x="783.5" y="111.5" width="496.8" height="272.9" fill="none" stroke="#000" stroke-width="2" stroke-linejoin="round"/>
</g>
<g id="p3">
<polygon points="161,568 185,567 194.3,575.2 198.5,579.4 200.5,588.8 208.9,594 214.1,600.2 205.8,609.6 184.9,599.2 170.3,590.8 161,585.6 158.9,576.2" fill="#000"/>
<polygon points="184.8,557 278.6,557.5 285.3,565 323.2,567 330,574.6 333,594 322,611 302,614 281,608 258.3,597 234,582.5 216,575.5 187,574.5" fill="#000"/>
<polygon points="265,628 278.6,628 294,635 301,641.6 301,650.5 294,655 283,650.5 269.6,641.6 263,635" fill="#000"/>
<polygon points="495,571.7 508.3,573.3 515,566.7 528.3,568.3 540,573.3 546.7,578.3 548.3,590 543.3,598.3 541.7,613.3 545,626.7 553.3,635 555,643.3 550,651.7 543.3,656.7 540,661.7 548.3,670 545,680 533.3,683.3 520,681.7 511.7,675 508.3,666.7 507.5,656.7 506.7,646.7 501.7,640 503.3,630 498.3,623.3 495,618.3 483.3,606.7 480,603.3 481.7,590 488.3,585 495,581.7" fill="#000"/>
<polygon points="510,711.7 520,706.7 528.3,708.3 533.3,716.7 535,728.3 536.7,740 540,748.3 536.7,755 526.7,753.3 520,746.7 513.3,738.3 508.3,728.3 506.7,718.3" fill="#000"/>
<polygon points="513,802 519,789 529,786 537,794 540.5,812 542,829 535,838 520,842.5 504,840 502.5,833 509,822" fill="#000"/>
<g class="c">
<circle cx="129.2" cy="564.1" r="6"/>
<circle cx="132.9" cy="564.4" r="6"/>
<circle cx="136.3" cy="564.3" r="6"/>
<circle cx="138.6" cy="563.3" r="6"/>
<circle cx="143.5" cy="563.5" r="6"/>
<circle cx="146.9" cy="562.4" r="6"/>
<circle cx="149.6" cy="562.6" r="6"/>
<circle cx="153.2" cy="563.1" r="6"/>
<circle cx="155.8" cy="562.3" r="6"/>
<circle cx="159.6" cy="563.6" r="6"/>
<circle cx="160.4" cy="562.4" r="6"/>
<circle cx="165.7" cy="562.4" r="6"/>
<circle cx="170.6" cy="562.4" r="6"/>
<circle cx="174.8" cy="563.2" r="6"/>
<circle cx="180.3" cy="562.5" r="6"/>
<circle cx="186.8" cy="563.2" r="6"/>
<circle cx="185.6" cy="564.8" r="6"/>
<circle cx="187.9" cy="563.9" r="6"/>
<circle cx="189" cy="564.7" r="6"/>
<circle cx="191.8" cy="564.8" r="6"/>
<circle cx="194.1" cy="562.8" r="6"/>
<circle cx="194.8" cy="562.4" r="6"/>
<circle cx="196.2" cy="562.1" r="6"/>
<circle cx="198.3" cy="563.8" r="6"/>
<circle cx="199.5" cy="564" r="6"/>
<circle cx="202" cy="562.9" r="6"/>
<circle cx="204.8" cy="563.4" r="6"/>
<circle cx="205.6" cy="563.4" r="6"/>
<circle cx="208.2" cy="562.2" r="6"/>
<circle cx="210.6" cy="562.1" r="6"/>
<circle cx="211.9" cy="564.5" r="6"/>
<circle cx="212.3" cy="564.4" r="6"/>
<circle cx="214.8" cy="563.8" r="6"/>
<circle cx="215.9" cy="562.2" r="6"/>
<circle cx="218.1" cy="564.9" r="6"/>
<circle cx="219.9" cy="564.3" r="6"/>
<circle cx="223.2" cy="564.9" r="6"/>
<circle cx="223.8" cy="563.1" r="6"/>
<circle cx="226" cy="564.4" r="6"/>
<circle cx="227" cy="564.3" r="6"/>
<circle cx="230.2" cy="564.7" r="6"/>
<circle cx="230.5" cy="564.9" r="6"/>
<circle cx="232.4" cy="563.1" r="6"/>
<circle cx="235.3" cy="564.9" r="6"/>
<circle cx="236.6" cy="564.9" r="6"/>
<circle cx="238.8" cy="563.1" r="6"/>
<circle cx="240.1" cy="562.7" r="6"/>
<circle cx="241.5" cy="562.6" r="6"/>
<circle cx="244.5" cy="565.1" r="6"/>
<circle cx="245.3" cy="562.3" r="6"/>
<circle cx="248.7" cy="563.8" r="6"/>
<circle cx="249.4" cy="562.9" r="6"/>
<circle cx="251.6" cy="564.7" r="6"/>
<circle cx="253.1" cy="563.5" r="6"/>
<circle cx="254.2" cy="564.9" r="6"/>
<circle cx="255.9" cy="563.7" r="6"/>
<circle cx="259.4" cy="562.6" r="6"/>
<circle cx="261" cy="565.1" r="6"/>
<circle cx="262.6" cy="564.6" r="6"/>
<circle cx="263.3" cy="563.5" r="6"/>
<circle cx="265.2" cy="564.8" r="6"/>
<circle cx="267.3" cy="563.6" r="6"/>
<circle cx="270.6" cy="564.8" r="6"/>
<circle cx="272.3" cy="563.6" r="6"/>
<circle cx="273.2" cy="564.5" r="6"/>
<circle cx="275" cy="563.2" r="6"/>
<circle cx="276.6" cy="562.7" r="6"/>
<circle cx="278.4" cy="565.3" r="6"/>
<circle cx="281.4" cy="564.2" r="6"/>
<circle cx="282.3" cy="563.4" r="6"/>
<circle cx="283.3" cy="563.3" r="6"/>
<circle cx="286.5" cy="565.2" r="6"/>
<circle cx="287.5" cy="565.1" r="6"/>
<circle cx="290.1" cy="564.9" r="6"/>
<circle cx="291.7" cy="565.2" r="6"/>
<circle cx="292.9" cy="565.1" r="6"/>
<circle cx="294.5" cy="564.6" r="6"/>
<circle cx="297.3" cy="565.3" r="6"/>
<circle cx="298.2" cy="566.1" r="6"/>
<circle cx="300.7" cy="565.1" r="6"/>
<circle cx="301.3" cy="565.1" r="6"/>
<circle cx="303.6" cy="565.6" r="6"/>
<circle cx="305.8" cy="566.1" r="6"/>
<circle cx="308" cy="566.2" r="6"/>
<circle cx="309.2" cy="565.8" r="6"/>
<circle cx="311.8" cy="566.5" r="6"/>
<circle cx="312.8" cy="566.6" r="6"/>
<circle cx="315.7" cy="566.2" r="6"/>
<circle cx="317.7" cy="567.1" r="6"/>
<circle cx="318.6" cy="566" r="6"/>
<circle cx="319.7" cy="567" r="6"/>
<circle cx="323.1" cy="566" r="6"/>
<circle cx="324.4" cy="566.8" r="6"/>
<circle cx="326.3" cy="565.3" r="6"/>
<circle cx="328.2" cy="566.6" r="6"/>
<circle cx="329.8" cy="566.2" r="6"/>
<circle cx="331.5" cy="567.4" r="6"/>
<circle cx="333.4" cy="567.3" r="6"/>
<circle cx="334" cy="565.7" r="6"/>
<circle cx="336.6" cy="567.3" r="6"/>
<circle cx="338" cy="567.5" r="6"/>
<circle cx="340.6" cy="565.7" r="6"/>
<circle cx="342.1" cy="566.3" r="6"/>
<circle cx="343.1" cy="566.1" r="6"/>
<circle cx="345.4" cy="566.4" r="6"/>
<circle cx="347" cy="566" r="6"/>
<circle cx="349.3" cy="567.2" r="6"/>
<circle cx="351.5" cy="567.9" r="6"/>
<circle cx="352.5" cy="568.9" r="6"/>
<circle cx="353.9" cy="567.5" r="6"/>
<circle cx="356.2" cy="567.7" r="6"/>
<circle cx="357.7" cy="569" r="6"/>
<circle cx="360" cy="566.7" r="6"/>
<circle cx="362.3" cy="567" r="6"/>
<circle cx="364" cy="567.8" r="6"/>
<circle cx="365.9" cy="569.8" r="6"/>
<circle cx="368.2" cy="568.3" r="6"/>
<circle cx="370" cy="569" r="6"/>
<circle cx="370.9" cy="567.6" r="6"/>
<circle cx="373.2" cy="569" r="6"/>
<circle cx="145.5" cy="565.4" r="6"/>
<circle cx="136.9" cy="567.1" r="6"/>
<circle cx="131.4" cy="564.1" r="6"/>
<circle cx="145" cy="563.5" r="6"/>
<circle cx="138.4" cy="564.7" r="6"/>
<circle cx="133.6" cy="568" r="6"/>
<circle cx="139.4" cy="564.2" r="6"/>
<circle cx="145.5" cy="568" r="6"/>
<circle cx="146.9" cy="570.7" r="6"/>
<circle cx="130.9" cy="566.6" r="6"/>
<circle cx="134.2" cy="569.1" r="6"/>
<circle cx="136.7" cy="571" r="6"/>
<circle cx="139.1" cy="573.5" r="6"/>
<circle cx="143" cy="574.7" r="6"/>
<circle cx="147.3" cy="577.3" r="6"/>
<circle cx="148" cy="577.9" r="6"/>
<circle cx="152.8" cy="582.2" r="6"/>
<circle cx="157.6" cy="582.7" r="6"/>
<circle cx="157.7" cy="585.3" r="6"/>
<circle cx="162.5" cy="586.4" r="6"/>
<circle cx="166.7" cy="588.5" r="6"/>
<circle cx="137.9" cy="569.1" r="6"/>
<circle cx="141.5" cy="569.2" r="6"/>
<circle cx="147.4" cy="570.5" r="6"/>
<circle cx="149.2" cy="575.1" r="6"/>
<circle cx="152.3" cy="577.2" r="6"/>
<circle cx="158.8" cy="577.7" r="6"/>
<circle cx="210.5" cy="608" r="6"/>
<circle cx="217.7" cy="604.9" r="6"/>
<circle cx="217.6" cy="609.2" r="6"/>
<circle cx="220.6" cy="609.1" r="6"/>
<circle cx="221" cy="612.3" r="6"/>
<circle cx="228.5" cy="610.1" r="6"/>
<circle cx="227.3" cy="616.8" r="6"/>
<circle cx="234" cy="617.3" r="6"/>
<circle cx="231.4" cy="619.3" r="6"/>
<circle cx="240.8" cy="622.8" r="6"/>
<circle cx="241.6" cy="617.8" r="6"/>
<circle cx="245.4" cy="620.6" r="6"/>
<circle cx="246.7" cy="627.3" r="6"/>
<circle cx="250" cy="623.2" r="6"/>
<circle cx="249.8" cy="630.3" r="6"/>
<circle cx="251.5" cy="629.8" r="6"/>
<circle cx="213.6" cy="610.3" r="6"/>
<circle cx="218.4" cy="611.6" r="6"/>
<circle cx="219.6" cy="615.2" r="6"/>
<circle cx="223.2" cy="615.5" r="6"/>
<circle cx="229.3" cy="621.1" r="6"/>
<circle cx="234.4" cy="620.3" r="6"/>
<circle cx="235.8" cy="623.4" r="6"/>
<circle cx="240.2" cy="626.5" r="6"/>
<circle cx="245.5" cy="628.2" r="6"/>
<circle cx="244.6" cy="632" r="6"/>
<circle cx="248.7" cy="633.9" r="6"/>
<circle cx="254" cy="637.7" r="6"/>
<circle cx="257.7" cy="638.6" r="6"/>
<circle cx="259.8" cy="640.6" r="6"/>
<circle cx="263.3" cy="643.9" r="6"/>
<circle cx="268.1" cy="643.2" r="6"/>
<circle cx="229" cy="635.3" r="6"/>
<circle cx="204.6" cy="582.3" r="6"/>
<circle cx="207" cy="585" r="6"/>
<circle cx="202" cy="581" r="6"/>
<circle cx="206" cy="588" r="6"/>
<circle cx="210" cy="590" r="6"/>
<circle cx="209" cy="583.5" r="6"/>
<circle cx="219" cy="584" r="6"/>
<circle cx="222" cy="588" r="6"/>
<circle cx="171.8" cy="582.8" r="6"/>
<circle cx="198.3" cy="594.9" r="6"/>
<circle cx="193.4" cy="582.1" r="6"/>
<circle cx="171.9" cy="581.2" r="6"/>
<circle cx="192.8" cy="581.9" r="6"/>
<circle cx="180.2" cy="572.8" r="6"/>
<circle cx="191.6" cy="591.4" r="6"/>
<circle cx="193.1" cy="585.3" r="6"/>
<circle cx="167.4" cy="573.8" r="6"/>
<circle cx="167.8" cy="579.2" r="6"/>
<circle cx="196.9" cy="595.7" r="6"/>
<circle cx="184.7" cy="579.1" r="6"/>
<circle cx="199.3" cy="597.6" r="6"/>
<circle cx="167.9" cy="577.2" r="6"/>
<circle cx="194.6" cy="585.3" r="6"/>
<circle cx="187.5" cy="581.9" r="6"/>
<circle cx="173" cy="584.4" r="6"/>
<circle cx="181.1" cy="589.6" r="6"/>
<circle cx="185.8" cy="591.3" r="6"/>
<circle cx="175.9" cy="586.1" r="6"/>
<circle cx="165.3" cy="580.3" r="6"/>
<circle cx="182.6" cy="591.6" r="6"/>
<circle cx="169.9" cy="579.2" r="6"/>
<circle cx="199.1" cy="596.9" r="6"/>
<circle cx="180" cy="572.5" r="6"/>
<circle cx="166.1" cy="582.2" r="6"/>
<circle cx="165.4" cy="580.5" r="6"/>
<circle cx="180.6" cy="576.2" r="6"/>
<circle cx="174.2" cy="575.6" r="6"/>
<circle cx="189.9" cy="582.2" r="6"/>
<circle cx="181" cy="573.1" r="6"/>
<circle cx="187.1" cy="592" r="6"/>
<circle cx="169.1" cy="583.6" r="6"/>
<circle cx="176.1" cy="583.3" r="6"/>
<circle cx="197.1" cy="595.5" r="6"/>
<circle cx="200.5" cy="595.5" r="6"/>
<circle cx="180.4" cy="574.6" r="6"/>
<circle cx="182.4" cy="589.5" r="6"/>
<circle cx="190" cy="592.7" r="6"/>
<circle cx="169.1" cy="575.1" r="6"/>
<circle cx="272.9" cy="593.8" r="6"/>
<circle cx="199.7" cy="568" r="6"/>
<circle cx="208" cy="562.3" r="6"/>
<circle cx="293.9" cy="603.5" r="6"/>
<circle cx="200.1" cy="562.9" r="6"/>
<circle cx="194.4" cy="568.8" r="6"/>
<circle cx="285.7" cy="599.3" r="6"/>
<circle cx="228.7" cy="563.7" r="6"/>
<circle cx="250.4" cy="583.9" r="6"/>
<circle cx="296.9" cy="607.8" r="6"/>
<circle cx="273.6" cy="564.8" r="6"/>
<circle cx="198.1" cy="563.3" r="6"/>
<circle cx="229.5" cy="566.5" r="6"/>
<circle cx="321.8" cy="574.1" r="6"/>
<circle cx="258.1" cy="589.3" r="6"/>
<circle cx="193.7" cy="562" r="6"/>
<circle cx="235.5" cy="565.2" r="6"/>
<circle cx="294.6" cy="571.9" r="6"/>
<circle cx="221.2" cy="572" r="6"/>
<circle cx="272.1" cy="563.7" r="6"/>
<circle cx="296.6" cy="571.7" r="6"/>
<circle cx="207.8" cy="569.3" r="6"/>
<circle cx="215.2" cy="562" r="6"/>
<circle cx="258" cy="587.6" r="6"/>
<circle cx="301" cy="604.6" r="6"/>
<circle cx="228.3" cy="563.1" r="6"/>
<circle cx="316.7" cy="572.1" r="6"/>
<circle cx="292.1" cy="571.9" r="6"/>
<circle cx="253.9" cy="562.9" r="6"/>
<circle cx="321" cy="575.6" r="6"/>
<circle cx="324" cy="583.6" r="6"/>
<circle cx="204.7" cy="568.6" r="6"/>
<circle cx="204.6" cy="566.6" r="6"/>
<circle cx="247.1" cy="580.6" r="6"/>
<circle cx="281.9" cy="600.2" r="6"/>
<circle cx="202.5" cy="568.5" r="6"/>
<circle cx="280.3" cy="570.1" r="6"/>
<circle cx="275.8" cy="597.8" r="6"/>
<circle cx="198" cy="569.6" r="6"/>
<circle cx="242.4" cy="566.5" r="6"/>
<circle cx="244.5" cy="582.7" r="6"/>
<circle cx="286" cy="600.5" r="6"/>
<circle cx="285.9" cy="600.9" r="6"/>
<circle cx="238.5" cy="565.2" r="6"/>
<circle cx="308.4" cy="575.6" r="6"/>
<circle cx="264.4" cy="566.7" r="6"/>
<circle cx="248" cy="582.1" r="6"/>
<circle cx="272.9" cy="562.4" r="6"/>
<circle cx="300.2" cy="574.6" r="6"/>
<circle cx="250.5" cy="565.6" r="6"/>
<circle cx="322.8" cy="573.6" r="6"/>
<circle cx="193.4" cy="570" r="6"/>
<circle cx="227.1" cy="572.1" r="6"/>
<circle cx="248" cy="564.5" r="6"/>
<circle cx="311.3" cy="605" r="6"/>
<circle cx="322.9" cy="579.9" r="6"/>
<circle cx="282.5" cy="570.9" r="6"/>
<circle cx="258.8" cy="590.1" r="6"/>
<circle cx="300.2" cy="574.5" r="6"/>
<circle cx="191.6" cy="569.8" r="6"/>
<circle cx="231" cy="571.1" r="6"/>
<circle cx="194.5" cy="563.3" r="6"/>
<circle cx="300.8" cy="571.5" r="6"/>
<circle cx="194.5" cy="567" r="6"/>
<circle cx="310.7" cy="605.5" r="6"/>
<circle cx="326.6" cy="584.8" r="6"/>
<circle cx="302" cy="573.8" r="6"/>
<circle cx="218.7" cy="568.7" r="6"/>
<circle cx="278" cy="596.4" r="6"/>
<circle cx="196.5" cy="567.6" r="6"/>
<circle cx="253.8" cy="588.1" r="6"/>
<circle cx="274.5" cy="594.4" r="6"/>
<circle cx="231.1" cy="572.9" r="6"/>
<circle cx="213.7" cy="562.8" r="6"/>
<circle cx="256.7" cy="565.5" r="6"/>
<circle cx="255.5" cy="587.6" r="6"/>
<circle cx="275.8" cy="595.2" r="6"/>
<circle cx="322" cy="597.3" r="6"/>
<circle cx="257.7" cy="586.9" r="6"/>
<circle cx="301.8" cy="606" r="6"/>
<circle cx="276" cy="596.8" r="6"/>
<circle cx="191.1" cy="567.9" r="6"/>
<circle cx="255.7" cy="563.7" r="6"/>
<circle cx="314.3" cy="575.1" r="6"/>
<circle cx="294.1" cy="603.2" r="6"/>
<circle cx="325.3" cy="584.1" r="6"/>
<circle cx="239.1" cy="565.4" r="6"/>
<circle cx="195" cy="561.9" r="6"/>
<circle cx="323.6" cy="594.9" r="6"/>
<circle cx="215.8" cy="570.4" r="6"/>
<circle cx="316.1" cy="573.9" r="6"/>
<circle cx="323.3" cy="598.4" r="6"/>
<circle cx="236.3" cy="576.7" r="6"/>
<circle cx="210.2" cy="569.8" r="6"/>
<circle cx="325.2" cy="591" r="6"/>
<circle cx="198.9" cy="568.2" r="6"/>
<circle cx="213.6" cy="569.5" r="6"/>
<circle cx="257.8" cy="566.7" r="6"/>
<circle cx="238" cy="574" r="6"/>
<circle cx="325.1" cy="582" r="6"/>
<circle cx="270.9" cy="593.7" r="6"/>
<circle cx="275.2" cy="597.5" r="6"/>
<circle cx="294" cy="575.4" r="6"/>
<circle cx="254.6" cy="589" r="6"/>
<circle cx="282" cy="571.9" r="6"/>
<circle cx="196" cy="563.2" r="6"/>
<circle cx="265.9" cy="590.5" r="6"/>
<circle cx="270.2" cy="563.5" r="6"/>
<circle cx="236.6" cy="564.3" r="6"/>
<circle cx="288" cy="572.6" r="6"/>
<circle cx="305.8" cy="575.6" r="6"/>
<circle cx="323.4" cy="575.7" r="6"/>
<circle cx="242.5" cy="564.1" r="6"/>
<circle cx="326.6" cy="590.7" r="6"/>
<circle cx="206.9" cy="568.5" r="6"/>
<circle cx="240.6" cy="563.5" r="6"/>
<circle cx="211" cy="568.2" r="6"/>
<circle cx="215" cy="569.6" r="6"/>
<circle cx="320.6" cy="571.9" r="6"/>
<circle cx="235.6" cy="563.1" r="6"/>
<circle cx="234.4" cy="566.5" r="6"/>
<circle cx="227.9" cy="571.5" r="6"/>
<circle cx="205.9" cy="563.5" r="6"/>
<circle cx="299.2" cy="572.2" r="6"/>
<circle cx="322.5" cy="583.9" r="6"/>
<circle cx="336.5" cy="595.7" r="6"/>
<circle cx="336.4" cy="611.3" r="6"/>
<circle cx="267.6" cy="603.3" r="6"/>
<circle cx="329.7" cy="607.6" r="6"/>
<circle cx="335.6" cy="612.5" r="6"/>
<circle cx="341.9" cy="604.9" r="6"/>
<circle cx="306" cy="621.5" r="6"/>
<circle cx="338.4" cy="604.2" r="6"/>
<circle cx="244.4" cy="594.3" r="6"/>
<circle cx="330" cy="607.1" r="6"/>
<circle cx="272.5" cy="606.1" r="6"/>
<circle cx="335.7" cy="589.9" r="6"/>
<circle cx="252.9" cy="597.4" r="6"/>
<circle cx="337.9" cy="608.4" r="6"/>
<circle cx="341.8" cy="607.7" r="6"/>
<circle cx="302.7" cy="625.3" r="6"/>
<circle cx="320.3" cy="616" r="6"/>
<circle cx="325.4" cy="574.7" r="6"/>
<circle cx="307.9" cy="618.5" r="6"/>
<circle cx="333.2" cy="606.4" r="6"/>
<circle cx="337" cy="581.9" r="6"/>
<circle cx="337.7" cy="597.5" r="6"/>
<circle cx="261.8" cy="600.8" r="6"/>
<circle cx="267.4" cy="609" r="6"/>
<circle cx="334.6" cy="593.1" r="6"/>
<circle cx="310.7" cy="614.1" r="6"/>
<circle cx="312.1" cy="614.2" r="6"/>
<circle cx="334.7" cy="577" r="6"/>
<circle cx="318.3" cy="614.1" r="6"/>
<circle cx="318.1" cy="618.2" r="6"/>
<circle cx="341.9" cy="602.5" r="6"/>
<circle cx="332.8" cy="603.7" r="6"/>
<circle cx="341.9" cy="599.7" r="6"/>
<circle cx="315.2" cy="612" r="6"/>
<circle cx="327.2" cy="619.4" r="6"/>
<circle cx="306.1" cy="616" r="6"/>
<circle cx="334.4" cy="606.6" r="6"/>
<circle cx="313.3" cy="620" r="6"/>
<circle cx="241.9" cy="592" r="6"/>
<circle cx="345" cy="586.2" r="6"/>
<circle cx="286.1" cy="617.9" r="6"/>
<circle cx="279.2" cy="610.7" r="6"/>
<circle cx="279.7" cy="615" r="6"/>
<circle cx="326.7" cy="620" r="6"/>
<circle cx="287.1" cy="617.1" r="6"/>
<circle cx="328.2" cy="621.1" r="6"/>
<circle cx="318.1" cy="619.3" r="6"/>
<circle cx="334.5" cy="596.3" r="6"/>
<circle cx="317.5" cy="619.9" r="6"/>
<circle cx="300.7" cy="615.5" r="6"/>
<circle cx="331.2" cy="619.4" r="6"/>
<circle cx="329.7" cy="612.3" r="6"/>
<circle cx="343.6" cy="603.7" r="6"/>
<circle cx="256.6" cy="600.5" r="6"/>
<circle cx="343.2" cy="602.5" r="6"/>
<circle cx="336.7" cy="598.6" r="6"/>
<circle cx="256.6" cy="603.6" r="6"/>
<circle cx="340.6" cy="608.4" r="6"/>
<circle cx="338" cy="574.5" r="6"/>
<circle cx="335.2" cy="600.2" r="6"/>
<circle cx="263.5" cy="605.3" r="6"/>
<circle cx="318" cy="623.8" r="6"/>
<circle cx="309.4" cy="619.7" r="6"/>
<circle cx="304.7" cy="617.5" r="6"/>
<circle cx="257.1" cy="602" r="6"/>
<circle cx="335.6" cy="586.2" r="6"/>
<circle cx="255.2" cy="602.5" r="6"/>
<circle cx="324.8" cy="620.3" r="6"/>
<circle cx="293.9" cy="617.3" r="6"/>
<circle cx="339.1" cy="582.5" r="6"/>
<circle cx="309.2" cy="617.9" r="6"/>
<circle cx="328.6" cy="580.3" r="6"/>
<circle cx="335.4" cy="580.6" r="6"/>
<circle cx="345.8" cy="595.2" r="6"/>
<circle cx="242.2" cy="594" r="6"/>
<circle cx="280.8" cy="613.6" r="6"/>
<circle cx="321.1" cy="614.8" r="6"/>
<circle cx="340.7" cy="584.5" r="6"/>
<circle cx="289.5" cy="648.3" r="6"/>
<circle cx="293" cy="642.1" r="6"/>
<circle cx="284.6" cy="641.5" r="6"/>
<circle cx="284.5" cy="639.3" r="6"/>
<circle cx="291.9" cy="645.3" r="6"/>
<circle cx="288.4" cy="643.6" r="6"/>
<circle cx="292.8" cy="642.9" r="6"/>
<circle cx="268.7" cy="633.9" r="6"/>
<circle cx="294.7" cy="643.6" r="6"/>
<circle cx="288.6" cy="646.9" r="6"/>
<circle cx="284.8" cy="636.9" r="6"/>
<circle cx="283.3" cy="638.5" r="6"/>
<circle cx="269.4" cy="639.7" r="6"/>
<circle cx="301.1" cy="654.9" r="6"/>
<circle cx="286.2" cy="645.5" r="6"/>
<circle cx="265.1" cy="635.7" r="6"/>
<circle cx="276.8" cy="636.9" r="6"/>
<circle cx="293.3" cy="649.3" r="6"/>
<circle cx="292" cy="652.8" r="6"/>
<circle cx="263.3" cy="635" r="6"/>
<circle cx="287.9" cy="634.3" r="6"/>
<circle cx="290.3" cy="640.5" r="6"/>
<circle cx="281.9" cy="629.9" r="6"/>
<circle cx="288" cy="647" r="6"/>
<circle cx="294.1" cy="646.5" r="6"/>
<circle cx="284.4" cy="642.2" r="6"/>
<circle cx="291.8" cy="638.2" r="6"/>
<circle cx="297.8" cy="654.4" r="6"/>
<circle cx="280.3" cy="644.9" r="6"/>
<circle cx="260.5" cy="629.4" r="6"/>
<circle cx="296.7" cy="636.9" r="6"/>
<circle cx="287.5" cy="639.2" r="6"/>
<circle cx="283.9" cy="632.4" r="6"/>
<circle cx="279.1" cy="647" r="6"/>
<circle cx="287.4" cy="645.6" r="6"/>
<circle cx="265.8" cy="636.8" r="6"/>
<circle cx="320.7" cy="642.1" r="6"/>
<circle cx="325.1" cy="639.2" r="6"/>
<circle cx="324.6" cy="643.2" r="6"/>
<circle cx="327.3" cy="636.4" r="6"/>
<circle cx="318.4" cy="630.6" r="6"/>
<circle cx="320.9" cy="641.3" r="6"/>
<circle cx="325.2" cy="628.2" r="6"/>
<circle cx="313" cy="630.2" r="6"/>
<circle cx="315.3" cy="643" r="6"/>
<circle cx="321.9" cy="633.3" r="6"/>
<circle cx="312.2" cy="647.2" r="6"/>
<circle cx="320.6" cy="629.3" r="6"/>
<circle cx="317.2" cy="627.6" r="6"/>
<circle cx="344.7" cy="600.2" r="6"/>
<circle cx="349.5" cy="597.7" r="6"/>
<circle cx="354.8" cy="595.6" r="6"/>
<circle cx="359.2" cy="593.3" r="6"/>
<circle cx="365.3" cy="592.3" r="6"/>
<circle cx="370.1" cy="589.8" r="6"/>
<circle cx="376.2" cy="588.1" r="6"/>
<circle cx="381.7" cy="585.7" r="6"/>
<circle cx="387.1" cy="585.8" r="6"/>
<circle cx="392.1" cy="584.2" r="6"/>
<circle cx="391.3" cy="582.5" r="6"/>
<circle cx="394.1" cy="584.9" r="6"/>
<circle cx="397.9" cy="583.6" r="6"/>
<circle cx="401.1" cy="584.1" r="6"/>
<circle cx="404.8" cy="582.2" r="6"/>
<circle cx="407.6" cy="582.1" r="6"/>
<circle cx="411.3" cy="582.3" r="6"/>
<circle cx="414.3" cy="583.9" r="6"/>
<circle cx="415.8" cy="585.9" r="6"/>
<circle cx="419" cy="585.5" r="6"/>
<circle cx="422.1" cy="584.4" r="6"/>
<circle cx="426.2" cy="587.4" r="6"/>
<circle cx="429.5" cy="587.2" r="6"/>
<circle cx="432.1" cy="586" r="6"/>
<circle cx="435.8" cy="587" r="6"/>
<circle cx="438.2" cy="586.5" r="6"/>
<circle cx="440.6" cy="588.6" r="6"/>
<circle cx="443.9" cy="588.7" r="6"/>
<circle cx="404" cy="579.4" r="6"/>
<circle cx="438.2" cy="578.6" r="6"/>
<circle cx="463.8" cy="594.7" r="6"/>
<circle cx="352" cy="578" r="6"/>
<circle cx="356" cy="585" r="6"/>
<circle cx="347" cy="584" r="6"/>
<circle cx="355.9" cy="608.2" r="6"/>
<circle cx="364.1" cy="613.4" r="6"/>
<circle cx="373.5" cy="617.9" r="6"/>
<circle cx="387.4" cy="624.6" r="6"/>
<circle cx="392.4" cy="635.7" r="6"/>
<circle cx="395.3" cy="636" r="6"/>
<circle cx="403.5" cy="634.2" r="6"/>
<circle cx="421.7" cy="646.1" r="6"/>
<circle cx="434.5" cy="655.1" r="6"/>
<circle cx="445.5" cy="663.2" r="6"/>
<circle cx="451.1" cy="669.2" r="6"/>
<circle cx="349" cy="604.5" r="6"/>
<circle cx="344" cy="615" r="6"/>
<circle cx="341.8" cy="626" r="6"/>
<circle cx="342.2" cy="635" r="6"/>
<circle cx="352.2" cy="631.5" r="6"/>
<circle cx="361.1" cy="637.2" r="6"/>
<circle cx="367.8" cy="640.9" r="6"/>
<circle cx="375.2" cy="644.6" r="6"/>
<circle cx="372.6" cy="651.3" r="6"/>
<circle cx="382.7" cy="650.6" r="6"/>
<circle cx="390.1" cy="655.8" r="6"/>
<circle cx="392.5" cy="658.5" r="6"/>
<circle cx="394.6" cy="661" r="6"/>
<circle cx="397.5" cy="662.8" r="6"/>
<circle cx="400.5" cy="664" r="6"/>
<circle cx="404.5" cy="665.6" r="6"/>
<circle cx="408.5" cy="667" r="6"/>
<circle cx="412.4" cy="668.2" r="6"/>
<circle cx="416.4" cy="669.2" r="6"/>
<circle cx="421" cy="670.1" r="6"/>
<circle cx="425.1" cy="670.7" r="6"/>
<circle cx="430" cy="671.3" r="6"/>
<circle cx="434" cy="671.7" r="6"/>
<circle cx="441.5" cy="672.2" r="6"/>
<circle cx="446" cy="671.8" r="6"/>
<circle cx="448.8" cy="670.8" r="6"/>
<circle cx="378" cy="647.5" r="6"/>
<circle cx="306.8" cy="656.5" r="6"/>
<circle cx="312" cy="659.5" r="6"/>
<circle cx="317.2" cy="662.5" r="6"/>
<circle cx="321.7" cy="664" r="6"/>
<circle cx="332.8" cy="668.8" r="6"/>
<circle cx="342.5" cy="672.9" r="6"/>
<circle cx="352.2" cy="676.2" r="6"/>
<circle cx="363.3" cy="680" r="6"/>
<circle cx="374.9" cy="681.5" r="6"/>
<circle cx="386.4" cy="683" r="6"/>
<circle cx="400.5" cy="684.1" r="6"/>
<circle cx="413.2" cy="684.8" r="6"/>
<circle cx="422.6" cy="683.3" r="6"/>
<circle cx="414.7" cy="675.9" r="6"/>
<circle cx="511.2" cy="580.2" r="6"/>
<circle cx="507.5" cy="627.6" r="6"/>
<circle cx="494.6" cy="588.5" r="6"/>
<circle cx="535.2" cy="616.5" r="6"/>
<circle cx="514.3" cy="669.3" r="6"/>
<circle cx="539.7" cy="594.1" r="6"/>
<circle cx="538.6" cy="588.6" r="6"/>
<circle cx="546.1" cy="640.8" r="6"/>
<circle cx="501.6" cy="586.2" r="6"/>
<circle cx="490.2" cy="603.9" r="6"/>
<circle cx="542.2" cy="649.4" r="6"/>
<circle cx="501.6" cy="612.7" r="6"/>
<circle cx="530.4" cy="675.4" r="6"/>
<circle cx="523.8" cy="672.7" r="6"/>
<circle cx="546" cy="641.6" r="6"/>
<circle cx="501.5" cy="587.2" r="6"/>
<circle cx="538.3" cy="582.9" r="6"/>
<circle cx="515.2" cy="648.2" r="6"/>
<circle cx="531.3" cy="578.3" r="6"/>
<circle cx="494.7" cy="610" r="6"/>
<circle cx="486.2" cy="600" r="6"/>
<circle cx="525.7" cy="577.9" r="6"/>
<circle cx="510.9" cy="627.7" r="6"/>
<circle cx="488.7" cy="601.7" r="6"/>
<circle cx="515.6" cy="667.8" r="6"/>
<circle cx="521.3" cy="672.7" r="6"/>
<circle cx="547.1" cy="640.9" r="6"/>
<circle cx="500.2" cy="618" r="6"/>
<circle cx="515.1" cy="650" r="6"/>
<circle cx="533.3" cy="665.9" r="6"/>
<circle cx="535.1" cy="580.2" r="6"/>
<circle cx="519.6" cy="575.2" r="6"/>
<circle cx="537.4" cy="598.4" r="6"/>
<circle cx="503.6" cy="586.4" r="6"/>
<circle cx="507.6" cy="625.6" r="6"/>
<circle cx="534.5" cy="596.6" r="6"/>
<circle cx="495.9" cy="608.4" r="6"/>
<circle cx="486.9" cy="598.4" r="6"/>
<circle cx="537.5" cy="582.7" r="6"/>
<circle cx="516.1" cy="579.5" r="6"/>
<circle cx="542.6" cy="582.8" r="6"/>
<circle cx="535.4" cy="667.9" r="6"/>
<circle cx="537.4" cy="603.8" r="6"/>
<circle cx="527.4" cy="575.5" r="6"/>
<circle cx="530.1" cy="578.9" r="6"/>
<circle cx="492.5" cy="604.7" r="6"/>
<circle cx="541.4" cy="584.6" r="6"/>
<circle cx="512.1" cy="650.4" r="6"/>
<circle cx="537.7" cy="672" r="6"/>
<circle cx="537" cy="672.9" r="6"/>
<circle cx="533.4" cy="576.4" r="6"/>
<circle cx="496.2" cy="606.7" r="6"/>
<circle cx="530" cy="577" r="6"/>
<circle cx="502" cy="577.3" r="6"/>
<circle cx="489.2" cy="602.9" r="6"/>
<circle cx="524.4" cy="677.4" r="6"/>
<circle cx="517.2" cy="655.9" r="6"/>
<circle cx="520.5" cy="672.5" r="6"/>
<circle cx="511.8" cy="653.7" r="6"/>
<circle cx="507" cy="637.9" r="6"/>
<circle cx="535.5" cy="622.9" r="6"/>
<circle cx="536.7" cy="631.4" r="6"/>
<circle cx="540.4" cy="668.9" r="6"/>
<circle cx="535.5" cy="599.1" r="6"/>
<circle cx="545.7" cy="636.4" r="6"/>
<circle cx="500.3" cy="583.8" r="6"/>
<circle cx="535" cy="622" r="6"/>
<circle cx="523.5" cy="672.9" r="6"/>
<circle cx="512.3" cy="580.5" r="6"/>
<circle cx="517.9" cy="670.3" r="6"/>
<circle cx="516" cy="660" r="6"/>
<circle cx="503.7" cy="615.2" r="6"/>
<circle cx="534.6" cy="676.8" r="6"/>
<circle cx="543" cy="588.9" r="6"/>
<circle cx="509.3" cy="631.5" r="6"/>
<circle cx="534.5" cy="613.5" r="6"/>
<circle cx="519.6" cy="572.4" r="6"/>
<circle cx="495.9" cy="608.8" r="6"/>
<circle cx="532.6" cy="663.4" r="6"/>
<circle cx="535.9" cy="618.6" r="6"/>
<circle cx="533.3" cy="613.1" r="6"/>
<circle cx="503.5" cy="584.6" r="6"/>
<circle cx="525.7" cy="675.8" r="6"/>
<circle cx="523.7" cy="577" r="6"/>
<circle cx="535.5" cy="662.9" r="6"/>
<circle cx="510.6" cy="582.9" r="6"/>
<circle cx="496.1" cy="591.3" r="6"/>
<circle cx="525.2" cy="573.7" r="6"/>
<circle cx="516" cy="652.7" r="6"/>
<circle cx="534.2" cy="599.6" r="6"/>
<circle cx="537" cy="621.2" r="6"/>
<circle cx="542.8" cy="634.7" r="6"/>
<circle cx="536.9" cy="653.4" r="6"/>
<circle cx="534.5" cy="673.5" r="6"/>
<circle cx="487.5" cy="562.3" r="6"/>
<circle cx="503.5" cy="555.1" r="6"/>
<circle cx="507" cy="555.1" r="6"/>
<circle cx="490.2" cy="567.3" r="6"/>
<circle cx="490.8" cy="567.2" r="6"/>
<circle cx="491.2" cy="562.4" r="6"/>
<circle cx="490.6" cy="562.8" r="6"/>
<circle cx="487.3" cy="558.7" r="6"/>
<circle cx="488.3" cy="562.3" r="6"/>
<circle cx="490.2" cy="564.2" r="6"/>
<circle cx="500.5" cy="559.9" r="6"/>
<circle cx="491.9" cy="558.2" r="6"/>
<circle cx="506.1" cy="555.1" r="6"/>
<circle cx="488.9" cy="561.3" r="6"/>
<circle cx="506.4" cy="560" r="6"/>
<circle cx="510.7" cy="557.5" r="6"/>
<circle cx="489.9" cy="563.5" r="6"/>
<circle cx="490.9" cy="563.2" r="6"/>
<circle cx="481.9" cy="560.7" r="6"/>
<circle cx="496.5" cy="559.1" r="6"/>
<circle cx="485.2" cy="561.9" r="6"/>
<circle cx="506.1" cy="554.5" r="6"/>
<circle cx="502.8" cy="556.4" r="6"/>
<circle cx="503.3" cy="557" r="6"/>
<circle cx="505.6" cy="553.7" r="6"/>
<circle cx="503.3" cy="555.1" r="6"/>
<circle cx="503" cy="556.1" r="6"/>
<circle cx="501.5" cy="554" r="6"/>
<circle cx="512.4" cy="556.8" r="6"/>
<circle cx="516.1" cy="557.2" r="6"/>
<circle cx="521.2" cy="558.6" r="6"/>
<circle cx="523" cy="558.6" r="6"/>
<circle cx="527.1" cy="561.3" r="6"/>
<circle cx="530.2" cy="561.5" r="6"/>
<circle cx="533.4" cy="565.2" r="6"/>
<circle cx="536.2" cy="567" r="6"/>
<circle cx="538.1" cy="569" r="6"/>
<circle cx="540" cy="572.8" r="6"/>
<circle cx="542.8" cy="575.5" r="6"/>
<circle cx="543.3" cy="578.3" r="6"/>
<circle cx="544.8" cy="581.3" r="6"/>
<circle cx="543.9" cy="585.5" r="6"/>
<circle cx="543.6" cy="590.6" r="6"/>
<circle cx="542.2" cy="593.5" r="6"/>
<circle cx="515.4" cy="563" r="6"/>
<circle cx="520.2" cy="564.2" r="6"/>
<circle cx="523.6" cy="564.5" r="6"/>
<circle cx="528.7" cy="566.7" r="6"/>
<circle cx="531" cy="569.7" r="6"/>
<circle cx="484.1" cy="616.4" r="6"/>
<circle cx="482.1" cy="619.6" r="6"/>
<circle cx="485.4" cy="624.4" r="6"/>
<circle cx="486" cy="627.3" r="6"/>
<circle cx="486" cy="630.4" r="6"/>
<circle cx="489.6" cy="634.1" r="6"/>
<circle cx="492.7" cy="637.2" r="6"/>
<circle cx="495.1" cy="640.4" r="6"/>
<circle cx="498" cy="646.4" r="6"/>
<circle cx="501.5" cy="647.9" r="6"/>
<circle cx="503.3" cy="650.6" r="6"/>
<circle cx="502.9" cy="655.1" r="6"/>
<circle cx="486.7" cy="614.7" r="6"/>
<circle cx="488.6" cy="624.4" r="6"/>
<circle cx="493.6" cy="631.1" r="6"/>
<circle cx="499.2" cy="638.2" r="6"/>
<circle cx="502.7" cy="646" r="6"/>
<circle cx="560.8" cy="592.5" r="6"/>
<circle cx="574.2" cy="598.3" r="6"/>
<circle cx="576.7" cy="601.7" r="6"/>
<circle cx="575" cy="604.2" r="6"/>
<circle cx="572" cy="600" r="6"/>
<circle cx="560" cy="605.8" r="6"/>
<circle cx="556.7" cy="610" r="6"/>
<circle cx="560.8" cy="612.5" r="6"/>
<circle cx="563.3" cy="618.3" r="6"/>
<circle cx="572.5" cy="627.5" r="6"/>
<circle cx="563.3" cy="631.7" r="6"/>
<circle cx="550" cy="605" r="6"/>
<circle cx="548.3" cy="620" r="6"/>
<circle cx="553.3" cy="630" r="6"/>
<circle cx="556" cy="622" r="6"/>
<circle cx="552" cy="612" r="6"/>
<circle cx="558" cy="603" r="6"/>
<circle cx="566" cy="608" r="6"/>
<circle cx="563" cy="603" r="6"/>
<circle cx="547" cy="600" r="6"/>
<circle cx="551" cy="596" r="6"/>
<circle cx="549" cy="633" r="6"/>
<circle cx="556" cy="640" r="6"/>
<circle cx="560" cy="646" r="6"/>
<circle cx="555" cy="679" r="6"/>
<circle cx="561.6" cy="656.7" r="6"/>
<circle cx="560.2" cy="673.9" r="6"/>
<circle cx="552.2" cy="654.2" r="6"/>
<circle cx="570.6" cy="659.1" r="6"/>
<circle cx="567.7" cy="651.5" r="6"/>
<circle cx="557.6" cy="654.9" r="6"/>
<circle cx="572.3" cy="653.3" r="6"/>
<circle cx="555.3" cy="656.4" r="6"/>
<circle cx="574.3" cy="666.5" r="6"/>
<circle cx="550.6" cy="661.9" r="6"/>
<circle cx="567.9" cy="668.5" r="6"/>
<circle cx="549.8" cy="673.8" r="6"/>
<circle cx="556.2" cy="657.2" r="6"/>
<circle cx="571.6" cy="659" r="6"/>
<circle cx="557.3" cy="680" r="6"/>
<circle cx="562.3" cy="662.5" r="6"/>
<circle cx="559.4" cy="651.3" r="6"/>
<circle cx="553.4" cy="655" r="6"/>
<circle cx="558.1" cy="651.6" r="6"/>
<circle cx="575.1" cy="662.1" r="6"/>
<circle cx="549.1" cy="683.8" r="6"/>
<circle cx="569.6" cy="657.4" r="6"/>
<circle cx="555.5" cy="676.1" r="6"/>
<circle cx="573.7" cy="660.3" r="6"/>
<circle cx="567.7" cy="663.9" r="6"/>
<circle cx="561.8" cy="659.5" r="6"/>
<circle cx="564.5" cy="660.7" r="6"/>
<circle cx="559.1" cy="671.7" r="6"/>
<circle cx="563.4" cy="653.2" r="6"/>
<circle cx="550.7" cy="674.8" r="6"/>
<circle cx="548.1" cy="671.9" r="6"/>
<circle cx="555" cy="657.8" r="6"/>
<circle cx="555.1" cy="653.2" r="6"/>
<circle cx="564.7" cy="649" r="6"/>
<circle cx="560.3" cy="655.2" r="6"/>
<circle cx="560.9" cy="663.9" r="6"/>
<circle cx="581" cy="657.7" r="6"/>
<circle cx="561.2" cy="649.4" r="6"/>
<circle cx="552.6" cy="667.3" r="6"/>
<circle cx="569.1" cy="668.2" r="6"/>
<circle cx="576.7" cy="664.2" r="6"/>
<circle cx="553.1" cy="656.3" r="6"/>
<circle cx="552.6" cy="651.9" r="6"/>
<circle cx="561.4" cy="665.9" r="6"/>
<circle cx="573.6" cy="662.1" r="6"/>
<circle cx="557.6" cy="669" r="6"/>
<circle cx="561.4" cy="662.2" r="6"/>
<circle cx="560.5" cy="674.1" r="6"/>
<circle cx="549.3" cy="667.9" r="6"/>
<circle cx="575.9" cy="660.3" r="6"/>
<circle cx="556.7" cy="650.9" r="6"/>
<circle cx="568.3" cy="656" r="6"/>
<circle cx="562.4" cy="677" r="6"/>
<circle cx="554.2" cy="675.4" r="6"/>
<circle cx="553.1" cy="649.8" r="6"/>
<circle cx="562" cy="678.5" r="6"/>
<circle cx="552.2" cy="672.2" r="6"/>
<circle cx="567.3" cy="661.2" r="6"/>
<circle cx="576.2" cy="665.8" r="6"/>
<circle cx="579.9" cy="657.4" r="6"/>
<circle cx="568.2" cy="665.9" r="6"/>
<circle cx="464.2" cy="594.2" r="6"/>
<circle cx="492.5" cy="677.5" r="6"/>
<circle cx="492.5" cy="687.5" r="6"/>
<circle cx="508.3" cy="675.8" r="6"/>
<circle cx="511.7" cy="700" r="6"/>
<circle cx="524.8" cy="719.8" r="6"/>
<circle cx="528.9" cy="745.5" r="6"/>
<circle cx="520.2" cy="732.6" r="6"/>
<circle cx="527" cy="741.6" r="6"/>
<circle cx="522.5" cy="735.9" r="6"/>
<circle cx="528.4" cy="736.3" r="6"/>
<circle cx="518.7" cy="729.6" r="6"/>
<circle cx="528.3" cy="738.5" r="6"/>
<circle cx="527.3" cy="739.1" r="6"/>
<circle cx="513.4" cy="727.4" r="6"/>
<circle cx="519.7" cy="730.9" r="6"/>
<circle cx="526.3" cy="742.9" r="6"/>
<circle cx="521.6" cy="735.5" r="6"/>
<circle cx="526.4" cy="746.2" r="6"/>
<circle cx="527.8" cy="744.4" r="6"/>
<circle cx="512.9" cy="722.5" r="6"/>
<circle cx="528.4" cy="723.2" r="6"/>
<circle cx="526.1" cy="733.2" r="6"/>
<circle cx="520.7" cy="735.1" r="6"/>
<circle cx="515.4" cy="724.7" r="6"/>
<circle cx="512.5" cy="718.4" r="6"/>
<circle cx="531" cy="734.5" r="6"/>
<circle cx="526.4" cy="745.2" r="6"/>
<circle cx="525" cy="737.6" r="6"/>
<circle cx="517.9" cy="735.1" r="6"/>
<circle cx="525.4" cy="744.3" r="6"/>
<circle cx="527.2" cy="741.8" r="6"/>
<circle cx="524.4" cy="740.4" r="6"/>
<circle cx="531.3" cy="740.2" r="6"/>
<circle cx="513.7" cy="721.4" r="6"/>
<circle cx="522.7" cy="737.6" r="6"/>
<circle cx="518.9" cy="713.3" r="6"/>
<circle cx="508.1" cy="737.8" r="6"/>
<circle cx="532.5" cy="718" r="6"/>
<circle cx="517.3" cy="734.8" r="6"/>
<circle cx="539.9" cy="732.8" r="6"/>
<circle cx="538.4" cy="747" r="6"/>
<circle cx="528.2" cy="735" r="6"/>
<circle cx="541.1" cy="741.2" r="6"/>
<circle cx="543.6" cy="732.9" r="6"/>
<circle cx="538.2" cy="721.7" r="6"/>
<circle cx="534.1" cy="725.8" r="6"/>
<circle cx="528.6" cy="742.5" r="6"/>
<circle cx="526.7" cy="723" r="6"/>
<circle cx="545.5" cy="725.5" r="6"/>
<circle cx="529.7" cy="713.3" r="6"/>
<circle cx="519.2" cy="712.7" r="6"/>
<circle cx="517.9" cy="738.9" r="6"/>
<circle cx="534.1" cy="728.7" r="6"/>
<circle cx="530" cy="747.8" r="6"/>
<circle cx="529.4" cy="748.3" r="6"/>
<circle cx="540.4" cy="737.5" r="6"/>
<circle cx="538" cy="750.2" r="6"/>
<circle cx="498.6" cy="734" r="6"/>
<circle cx="502.1" cy="729" r="6"/>
<circle cx="514.6" cy="737.3" r="6"/>
<circle cx="516.3" cy="740.8" r="6"/>
<circle cx="525.4" cy="740.5" r="6"/>
<circle cx="515.8" cy="736.7" r="6"/>
<circle cx="541.1" cy="751.8" r="6"/>
<circle cx="529.8" cy="722.7" r="6"/>
<circle cx="501.8" cy="728.2" r="6"/>
<circle cx="500.3" cy="733" r="6"/>
<circle cx="507.8" cy="740.6" r="6"/>
<circle cx="533.7" cy="742.2" r="6"/>
<circle cx="539.4" cy="753.2" r="6"/>
<circle cx="523.8" cy="729.3" r="6"/>
<circle cx="525" cy="753.6" r="6"/>
<circle cx="528.2" cy="723.7" r="6"/>
<circle cx="516.6" cy="718.8" r="6"/>
<circle cx="524" cy="732.9" r="6"/>
<circle cx="526" cy="733.2" r="6"/>
<circle cx="518.3" cy="732.8" r="6"/>
<circle cx="512.3" cy="721.2" r="6"/>
<circle cx="533.2" cy="731.5" r="6"/>
<circle cx="544" cy="740.4" r="6"/>
<circle cx="517.4" cy="722.9" r="6"/>
<circle cx="515.7" cy="713.7" r="6"/>
<circle cx="542.2" cy="749.3" r="6"/>
<circle cx="539.7" cy="738.9" r="6"/>
<circle cx="541.7" cy="742.4" r="6"/>
<circle cx="519.3" cy="733.4" r="6"/>
<circle cx="520.6" cy="734.5" r="6"/>
<circle cx="530.6" cy="749.1" r="6"/>
<circle cx="528.2" cy="748.5" r="6"/>
<circle cx="545.3" cy="727.5" r="6"/>
<circle cx="505.3" cy="728.5" r="6"/>
<circle cx="522.6" cy="734.9" r="6"/>
<circle cx="507.9" cy="724.8" r="6"/>
<circle cx="511.3" cy="703.3" r="6"/>
<circle cx="497.5" cy="715" r="6"/>
<circle cx="484.2" cy="718" r="6"/>
<circle cx="482.5" cy="730" r="6"/>
<circle cx="461.7" cy="730.8" r="6"/>
<circle cx="473.7" cy="738.3" r="6"/>
<circle cx="457.5" cy="750.8" r="6"/>
<circle cx="473" cy="750" r="6"/>
<circle cx="490.8" cy="739.2" r="6"/>
<circle cx="495" cy="727.5" r="6"/>
<circle cx="554.2" cy="757.5" r="6"/>
<circle cx="551.7" cy="770.8" r="6"/>
<circle cx="551.3" cy="781.3" r="6"/>
<circle cx="573.7" cy="753" r="6"/>
<circle cx="586.7" cy="770" r="6"/>
<circle cx="590" cy="804.2" r="6"/>
<circle cx="577.5" cy="814.2" r="6"/>
<circle cx="530.4" cy="806.5" r="6"/>
<circle cx="529.4" cy="829.4" r="6"/>
<circle cx="508.5" cy="832.9" r="6"/>
<circle cx="523.4" cy="835.4" r="6"/>
<circle cx="530.5" cy="828.5" r="6"/>
<circle cx="518" cy="809.7" r="6"/>
<circle cx="511.1" cy="828.1" r="6"/>
<circle cx="519.4" cy="809.6" r="6"/>
<circle cx="528.1" cy="799.9" r="6"/>
<circle cx="531.4" cy="819.4" r="6"/>
<circle cx="531.7" cy="804" r="6"/>
<circle cx="535.7" cy="811" r="6"/>
<circle cx="517.2" cy="812.7" r="6"/>
<circle cx="529.9" cy="798.8" r="6"/>
<circle cx="531.5" cy="813.2" r="6"/>
<circle cx="519" cy="809.1" r="6"/>
<circle cx="520.8" cy="812.4" r="6"/>
<circle cx="521.2" cy="809.8" r="6"/>
<circle cx="526.9" cy="835.1" r="6"/>
<circle cx="529.2" cy="798.6" r="6"/>
<circle cx="531.5" cy="808.8" r="6"/>
<circle cx="533.3" cy="803.3" r="6"/>
<circle cx="534.7" cy="820.8" r="6"/>
<circle cx="535.4" cy="826.3" r="6"/>
<circle cx="528.2" cy="831.7" r="6"/>
<circle cx="534.7" cy="814.4" r="6"/>
<circle cx="535.5" cy="825.7" r="6"/>
<circle cx="516.1" cy="813.7" r="6"/>
<circle cx="536.2" cy="818.2" r="6"/>
<circle cx="531.8" cy="813.9" r="6"/>
<circle cx="520.1" cy="817.5" r="6"/>
<circle cx="512.3" cy="811.4" r="6"/>
<circle cx="508.8" cy="816.1" r="6"/>
<circle cx="497.7" cy="804.4" r="6"/>
<circle cx="535.2" cy="802.2" r="6"/>
<circle cx="510.6" cy="803.3" r="6"/>
<circle cx="528.9" cy="797.1" r="6"/>
<circle cx="508.3" cy="782.5" r="6"/>
<circle cx="524.9" cy="818.2" r="6"/>
<circle cx="511.5" cy="794.7" r="6"/>
<circle cx="506.3" cy="784.1" r="6"/>
<circle cx="512.4" cy="810.3" r="6"/>
<circle cx="529" cy="815.4" r="6"/>
<circle cx="502" cy="800.1" r="6"/>
<circle cx="514.7" cy="780.3" r="6"/>
<circle cx="533.8" cy="789" r="6"/>
<circle cx="543" cy="800.4" r="6"/>
<circle cx="521.1" cy="803.9" r="6"/>
<circle cx="506.4" cy="807.9" r="6"/>
<circle cx="531.6" cy="800.3" r="6"/>
<circle cx="517.5" cy="819.1" r="6"/>
<circle cx="532" cy="816.3" r="6"/>
<circle cx="508.7" cy="786" r="6"/>
<circle cx="531.3" cy="803.8" r="6"/>
<circle cx="530.6" cy="803.6" r="6"/>
<circle cx="508.7" cy="797.6" r="6"/>
<circle cx="523.4" cy="786.7" r="6"/>
<circle cx="541.3" cy="811.5" r="6"/>
<circle cx="521.1" cy="811.4" r="6"/>
<circle cx="539.8" cy="817.4" r="6"/>
<circle cx="540.5" cy="796.1" r="6"/>
<circle cx="517.1" cy="808.6" r="6"/>
<circle cx="543.2" cy="804.2" r="6"/>
<circle cx="517.8" cy="815.2" r="6"/>
<circle cx="515" cy="780.3" r="6"/>
<circle cx="523.6" cy="805.9" r="6"/>
<circle cx="513.6" cy="782" r="6"/>
<circle cx="535" cy="809.9" r="6"/>
<circle cx="522.2" cy="785.7" r="6"/>
<circle cx="522.5" cy="784.3" r="6"/>
<circle cx="529.4" cy="818.2" r="6"/>
<circle cx="533.7" cy="800.5" r="6"/>
<circle cx="533.6" cy="795.2" r="6"/>
<circle cx="512.7" cy="797.8" r="6"/>
<circle cx="534.6" cy="807.4" r="6"/>
<circle cx="529.2" cy="786" r="6"/>
<circle cx="547.9" cy="813" r="6"/>
<circle cx="512" cy="780.3" r="6"/>
<circle cx="539.9" cy="809.9" r="6"/>
<circle cx="522.3" cy="814.5" r="6"/>
<circle cx="520.7" cy="796.7" r="6"/>
<circle cx="522.7" cy="787.3" r="6"/>
<circle cx="505.5" cy="794.3" r="6"/>
<circle cx="542.5" cy="821" r="6"/>
<circle cx="543.8" cy="808" r="6"/>
<circle cx="507.4" cy="793.4" r="6"/>
<circle cx="519.7" cy="775.8" r="6"/>
<circle cx="485.8" cy="782.5" r="6"/>
<circle cx="490" cy="786.7" r="6"/>
<circle cx="486.7" cy="796.7" r="6"/>
<circle cx="491.7" cy="794.2" r="6"/>
<circle cx="495" cy="805" r="6"/>
<circle cx="500" cy="812.5" r="6"/>
<circle cx="468.3" cy="770" r="6"/>
<circle cx="547.5" cy="816.7" r="6"/>
<circle cx="546.7" cy="806.7" r="6"/>
<circle cx="429.2" cy="836.3" r="6"/>
<circle cx="429.6" cy="836.5" r="6"/>
<circle cx="463" cy="836.3" r="6"/>
<circle cx="479.7" cy="836.3" r="6"/>
<circle cx="488" cy="836.3" r="6"/>
</g>
<line x1="111.5" y1="555.8" x2="608.3" y2="555.8" class="g"/>
<line x1="111.5" y1="607.8" x2="608.3" y2="607.8" class="g"/>
<line x1="111.5" y1="659.8" x2="608.3" y2="659.8" class="g"/>
<line x1="111.5" y1="711.8" x2="608.3" y2="711.8" class="g"/>
<line x1="111.5" y1="763.8" x2="608.3" y2="763.8" class="g"/>
<line x1="111.5" y1="815.8" x2="608.3" y2="815.8" class="g"/>
<line x1="218.1" y1="848.5" x2="218.1" y2="543.7" class="g"/>
<line x1="355.8" y1="848.5" x2="355.8" y2="543.7" class="g"/>
<line x1="493.5" y1="848.5" x2="493.5" y2="543.7" class="g"/>
<line x1="217.7" y1="543.7" x2="111.5" y2="663.5" stroke="#808080" stroke-width="2" stroke-linecap="round" />
<line x1="396.6" y1="543.7" x2="133.5" y2="848.5" stroke="#808080" stroke-width="2" stroke-linecap="round" />
<line x1="577.3" y1="543.7" x2="312.5" y2="848.5" stroke="#808080" stroke-width="2" stroke-linecap="round" />
<line x1="608.3" y1="715" x2="492.5" y2="848.5" stroke="#808080" stroke-width="2" stroke-linecap="round" />
<text transform="translate(217.7 537.00) scale(1 1.045)" fill="#808080" stroke="#808080" font-size="19.90" text-anchor="middle" >24.75</text>
<text transform="translate(397.2 537.00) scale(1 1.045)" fill="#808080" stroke="#808080" font-size="19.90" text-anchor="middle" >24.8</text>
<text transform="translate(577 537.00) scale(1 1.045)" fill="#808080" stroke="#808080" font-size="19.90" text-anchor="middle" >24.85</text>
<text transform="translate(634.4 715.00) rotate(-90) scale(1 1.045)" fill="#808080" stroke="#808080" font-size="19.90" text-anchor="middle" >24.9</text>
<line x1="218.1" y1="848.5" x2="218.1" y2="864.5" stroke="#000" stroke-width="2" stroke-linecap="round" />
<line x1="355.8" y1="848.5" x2="355.8" y2="864.5" stroke="#000" stroke-width="2" stroke-linecap="round" />
<line x1="493.5" y1="848.5" x2="493.5" y2="864.5" stroke="#000" stroke-width="2" stroke-linecap="round" />
<text transform="translate(218.1 895.80) scale(1 1.045)" fill="#000" stroke="#000" font-size="26.56" text-anchor="middle" >34.55</text>
<text transform="translate(355.8 895.80) scale(1 1.045)" fill="#000" stroke="#000" font-size="26.56" text-anchor="middle" >34.60</text>
<text transform="translate(493.5 895.80) scale(1 1.045)" fill="#000" stroke="#000" font-size="26.56" text-anchor="middle" >34.65</text>
<text transform="translate(359.9 937.50) scale(1 1.045)" fill="#000" stroke="#000" font-size="26.56" text-anchor="middle" >Salinity</text>
<line x1="111.5" y1="555.8" x2="95.5" y2="555.8" stroke="#000" stroke-width="2" stroke-linecap="round" />
<line x1="111.5" y1="607.8" x2="95.5" y2="607.8" stroke="#000" stroke-width="2" stroke-linecap="round" />
<line x1="111.5" y1="659.8" x2="95.5" y2="659.8" stroke="#000" stroke-width="2" stroke-linecap="round" />
<line x1="111.5" y1="711.8" x2="95.5" y2="711.8" stroke="#000" stroke-width="2" stroke-linecap="round" />
<line x1="111.5" y1="763.8" x2="95.5" y2="763.8" stroke="#000" stroke-width="2" stroke-linecap="round" />
<line x1="111.5" y1="815.8" x2="95.5" y2="815.8" stroke="#000" stroke-width="2" stroke-linecap="round" />
<text transform="translate(83 607.80) rotate(-90) scale(1 1.045)" fill="#000" stroke="#000" font-size="26.56" text-anchor="middle" >18.65</text>
<text transform="translate(83 711.80) rotate(-90) scale(1 1.045)" fill="#000" stroke="#000" font-size="26.56" text-anchor="middle" >18.55</text>
<text transform="translate(83 815.80) rotate(-90) scale(1 1.045)" fill="#000" stroke="#000" font-size="26.56" text-anchor="middle" >18.45</text>
<text transform="translate(35.5 696.10) rotate(-90) scale(1 1.045)" fill="#000" stroke="#000" font-size="26.56" text-anchor="middle" >θ [ °C ]</text>
<rect x="111.5" y="543.7" width="496.8" height="304.8" fill="none" stroke="#000" stroke-width="2" stroke-linejoin="round"/>
</g>
<g id="p4">
<polygon points="1015.3,543.7 1082,664.8 1163.5,719 1197.7,824.5 1280.3,847 1280.3,543.7" fill="#d3d3d3"/>
<circle cx="1031.8" cy="696.1" r="7" fill="#ff0000"/>
<line x1="803.3" y1="848.5" x2="803.3" y2="864.5" stroke="#000" stroke-width="2" stroke-linecap="round" />
<line x1="803.3" y1="543.7" x2="803.3" y2="527.7" stroke="#000" stroke-width="2" stroke-linecap="round" />
<line x1="911.2" y1="848.5" x2="911.2" y2="864.5" stroke="#000" stroke-width="2" stroke-linecap="round" />
<line x1="911.2" y1="543.7" x2="911.2" y2="527.7" stroke="#000" stroke-width="2" stroke-linecap="round" />
<line x1="1019" y1="848.5" x2="1019" y2="864.5" stroke="#000" stroke-width="2" stroke-linecap="round" />
<line x1="1019" y1="543.7" x2="1019" y2="527.7" stroke="#000" stroke-width="2" stroke-linecap="round" />
<line x1="1126.9" y1="848.5" x2="1126.9" y2="864.5" stroke="#000" stroke-width="2" stroke-linecap="round" />
<line x1="1126.9" y1="543.7" x2="1126.9" y2="527.7" stroke="#000" stroke-width="2" stroke-linecap="round" />
<line x1="1234.8" y1="848.5" x2="1234.8" y2="864.5" stroke="#000" stroke-width="2" stroke-linecap="round" />
<line x1="1234.8" y1="543.7" x2="1234.8" y2="527.7" stroke="#000" stroke-width="2" stroke-linecap="round" />
<text transform="translate(803.3 895.00) scale(1 1.045)" fill="#000" stroke="#000" font-size="26.56" text-anchor="middle" >-83</text>
<text transform="translate(911.2 895.00) scale(1 1.045)" fill="#000" stroke="#000" font-size="26.56" text-anchor="middle" >-82.5</text>
<text transform="translate(1019 895.00) scale(1 1.045)" fill="#000" stroke="#000" font-size="26.56" text-anchor="middle" >-82</text>
<text transform="translate(1126.9 895.00) scale(1 1.045)" fill="#000" stroke="#000" font-size="26.56" text-anchor="middle" >-81.5</text>
<text transform="translate(1234.8 895.00) scale(1 1.045)" fill="#000" stroke="#000" font-size="26.56" text-anchor="middle" >-81</text>
<line x1="783.5" y1="633.7" x2="767.5" y2="633.7" stroke="#000" stroke-width="2" stroke-linecap="round" />
<line x1="1280.3" y1="633.7" x2="1296.3" y2="633.7" stroke="#000" stroke-width="2" stroke-linecap="round" />
<text transform="translate(755 633.70) rotate(-90) scale(1 1.045)" fill="#000" stroke="#000" font-size="26.56" text-anchor="middle" >26</text>
<line x1="783.5" y1="753.6" x2="767.5" y2="753.6" stroke="#000" stroke-width="2" stroke-linecap="round" />
<line x1="1280.3" y1="753.6" x2="1296.3" y2="753.6" stroke="#000" stroke-width="2" stroke-linecap="round" />
<text transform="translate(755 753.60) rotate(-90) scale(1 1.045)" fill="#000" stroke="#000" font-size="26.56" text-anchor="middle" >25.5</text>
<text transform="translate(783.8 520.70) scale(1 1.045)" fill="#000" stroke="#000" font-size="26.56" text-anchor="start" >31</text>
<text transform="translate(1279.3 520.70) scale(1 1.045)" fill="#000" stroke="#000" font-size="26.56" text-anchor="end" >2021-02-03 19:50:43</text>
<rect x="783.5" y="543.7" width="496.8" height="304.8" fill="none" stroke="#000" stroke-width="2" stroke-linejoin="round"/>
</g>
</svg>
</body></html>
